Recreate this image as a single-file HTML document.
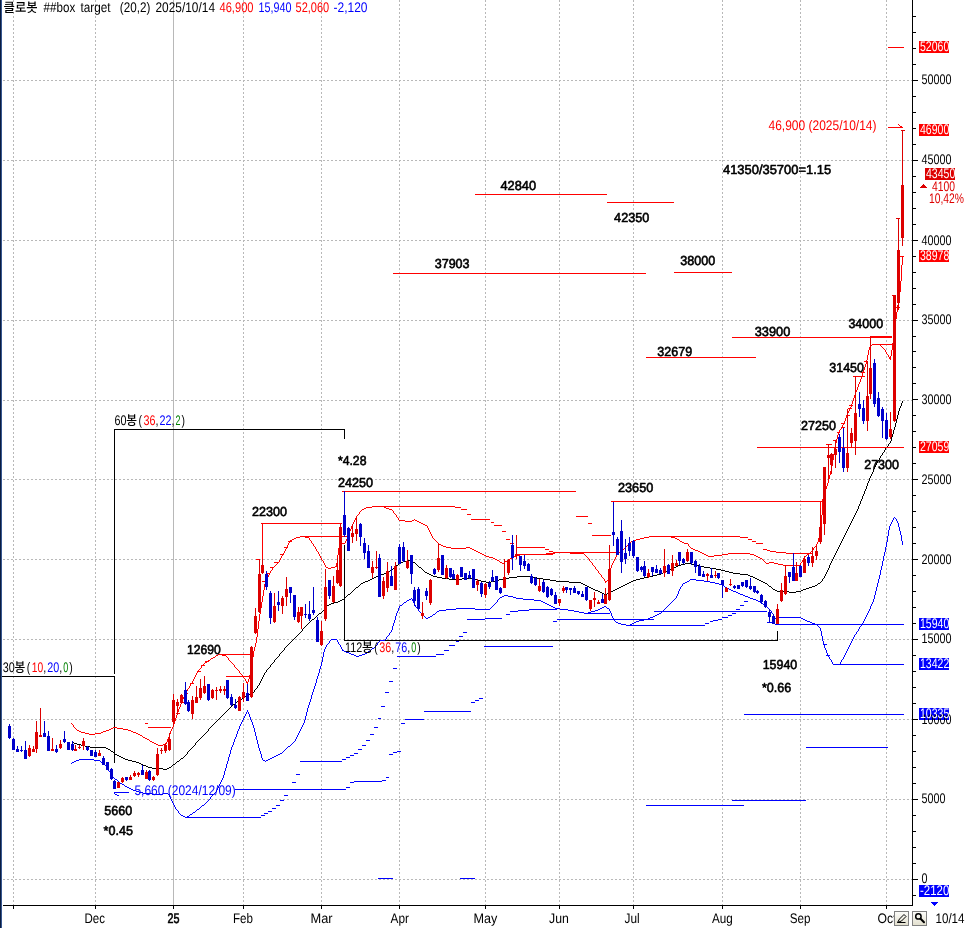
<!DOCTYPE html>
<html lang="ko"><head><meta charset="utf-8"><title>클로봇 ##box target</title>
<style>
html,body{margin:0;padding:0;background:#fff;}
body{width:967px;height:928px;overflow:hidden;}
svg{display:block;}
text{font-family:'Liberation Sans','Noto Sans CJK KR',sans-serif;white-space:pre;}
</style></head><body>
<svg width="967" height="928" viewBox="0 0 967 928">
<rect x="0" y="0" width="967" height="928" fill="#fff"/>
<g shape-rendering="crispEdges">
<g stroke="#b8b8b8" stroke-width="1" stroke-dasharray="2 2"><line x1="3" y1="80.5" x2="912" y2="80.5"/><line x1="3" y1="160.5" x2="912" y2="160.5"/><line x1="3" y1="240.5" x2="912" y2="240.5"/><line x1="3" y1="320.5" x2="912" y2="320.5"/><line x1="3" y1="400.5" x2="912" y2="400.5"/><line x1="3" y1="479.5" x2="912" y2="479.5"/><line x1="3" y1="559.5" x2="912" y2="559.5"/><line x1="3" y1="639.5" x2="912" y2="639.5"/><line x1="3" y1="719.5" x2="912" y2="719.5"/><line x1="3" y1="799.5" x2="912" y2="799.5"/><line x1="3" y1="879.5" x2="912" y2="879.5"/><line x1="13.5" y1="0" x2="13.5" y2="905"/><line x1="95.5" y1="0" x2="95.5" y2="905"/><line x1="243.5" y1="0" x2="243.5" y2="905"/><line x1="321.5" y1="0" x2="321.5" y2="905"/><line x1="399.5" y1="0" x2="399.5" y2="905"/><line x1="485.5" y1="0" x2="485.5" y2="905"/><line x1="559.5" y1="0" x2="559.5" y2="905"/><line x1="633.5" y1="0" x2="633.5" y2="905"/><line x1="722.5" y1="0" x2="722.5" y2="905"/><line x1="800.5" y1="0" x2="800.5" y2="905"/><line x1="886.5" y1="0" x2="886.5" y2="905"/></g>
<rect x="173" y="0" width="1" height="905" fill="#b8b8b8"/>
<rect x="2" y="676" width="113" height="1" fill="#000"/>
<rect x="114" y="429" width="1" height="245" fill="#000"/>
<rect x="114" y="676" width="1" height="87" fill="#000"/>
<rect x="114" y="429" width="231" height="1" fill="#000"/>
<rect x="344" y="429" width="1" height="10" fill="#000"/>
<rect x="344" y="545" width="1" height="96" fill="#000"/>
<rect x="344" y="640" width="434" height="1" fill="#000"/>
<rect x="777" y="631" width="1" height="10" fill="#000"/>
<path fill="#000" d="M374 577h2v1h-2zM437 577h5v1h-5zM509 577h8v1h-8zM532 577h5v1h-5zM644 577h5v1h-5zM753 577h2v1h-2zM585 585h2v1h-2zM623 585h2v1h-2zM815 585h2v1h-2zM681 564h4v1h-4zM691 564h4v1h-4zM370 579h2v1h-2zM449 579h13v1h-13zM473 579h5v1h-5zM499 579h5v1h-5zM543 579h7v1h-7zM636 579h4v1h-4zM757 579h2v1h-2zM365 581h3v1h-3zM481 581h5v1h-5zM491 581h4v1h-4zM556 581h13v1h-13zM631 581h2v1h-2zM761 581h2v1h-2zM598 591h2v1h-2zM611 591h2v1h-2zM777 591h12v1h-12zM796 591h5v1h-5zM401 562h2v1h-2zM413 562h2v1h-2zM388 571h2v1h-2zM665 571h3v1h-3zM725 571h4v1h-4zM419 567h2v1h-2zM674 567h2v1h-2zM704 567h6v1h-6zM600 592h2v1h-2zM609 592h2v1h-2zM789 592h7v1h-7zM384 573h2v1h-2zM427 573h2v1h-2zM661 573h2v1h-2zM733 573h7v1h-7zM378 575h3v1h-3zM431 575h2v1h-2zM653 575h4v1h-4zM748 575h2v1h-2zM363 582h2v1h-2zM486 582h5v1h-5zM569 582h12v1h-12zM629 582h2v1h-2zM763 582h2v1h-2zM115 754h2v1h-2zM372 578h2v1h-2zM442 578h7v1h-7zM462 578h11v1h-11zM504 578h5v1h-5zM537 578h6v1h-6zM640 578h4v1h-4zM755 578h2v1h-2zM593 589h2v1h-2zM615 589h2v1h-2zM773 589h2v1h-2zM803 589h3v1h-3zM399 563h2v1h-2zM685 563h6v1h-6zM125 759h3v1h-3zM361 583h2v1h-2zM581 583h2v1h-2zM627 583h2v1h-2zM765 583h2v1h-2zM818 583h2v1h-2zM117 755h2v1h-2zM591 588h2v1h-2zM617 588h2v1h-2zM806 588h3v1h-3zM119 756h2v1h-2zM595 590h3v1h-3zM613 590h2v1h-2zM775 590h2v1h-2zM801 590h2v1h-2zM403 561h4v1h-4zM411 561h2v1h-2zM386 572h2v1h-2zM425 572h2v1h-2zM663 572h2v1h-2zM729 572h4v1h-4zM121 757h2v1h-2zM152 768h11v1h-11zM167 768h2v1h-2zM672 568h2v1h-2zM710 568h6v1h-6zM381 574h3v1h-3zM429 574h2v1h-2zM657 574h4v1h-4zM740 574h8v1h-8zM331 603h3v1h-3zM376 576h2v1h-2zM433 576h4v1h-4zM517 576h15v1h-15zM649 576h4v1h-4zM750 576h3v1h-3zM368 580h2v1h-2zM478 580h3v1h-3zM495 580h4v1h-4zM550 580h6v1h-6zM633 580h3v1h-3zM759 580h2v1h-2zM85 746h5v1h-5zM587 586h2v1h-2zM621 586h2v1h-2zM769 586h2v1h-2zM812 586h3v1h-3zM81 745h4v1h-4zM356 587h2v1h-2zM589 587h2v1h-2zM619 587h2v1h-2zM809 587h3v1h-3zM602 593h2v1h-2zM607 593h2v1h-2zM90 747h16v1h-16zM338 601h2v1h-2zM342 599h2v1h-2zM146 766h2v1h-2zM128 760h4v1h-4zM249 694h2v1h-2zM240 699h2v1h-2zM139 763h2v1h-2zM396 565h2v1h-2zM678 565h3v1h-3zM695 565h4v1h-4zM327 605h2v1h-2zM583 584h2v1h-2zM625 584h2v1h-2zM106 748h2v1h-2zM74 743h3v1h-3zM668 570h2v1h-2zM721 570h4v1h-4zM391 569h2v1h-2zM670 569h2v1h-2zM716 569h5v1h-5zM132 761h4v1h-4zM177 761h2v1h-2zM319 613h2v1h-2zM233 704h2v1h-2zM676 566h2v1h-2zM699 566h5v1h-5zM136 762h3v1h-3zM348 594h2v1h-2zM604 594h3v1h-3zM245 696h2v1h-2zM237 701h2v1h-2zM334 602h4v1h-4zM407 560h4v1h-4zM108 749h2v1h-2zM77 744h4v1h-4zM340 600h2v1h-2zM148 767h4v1h-4zM169 767h2v1h-2zM251 693h2v1h-2zM141 764h2v1h-2zM173 764h2v1h-2zM163 769h4v1h-4zM329 604h2v1h-2zM243 697h2v1h-2zM123 758h2v1h-2zM181 758h2v1h-2zM247 695h2v1h-2zM72 742h2v1h-2zM111 751h2v1h-2zM143 765h3v1h-3zM312 619h2v1h-2zM851 521h1v2h-1zM359 585h1v1h-1zM831 561h1v2h-1zM270 665h1v2h-1zM293 639h1v1h-1zM317 615h1v1h-1zM867 483h1v3h-1zM879 458h1v2h-1zM856 511h1v2h-1zM187 752h1v2h-1zM872 472h1v2h-1zM899 408h1v3h-1zM896 419h1v4h-1zM202 736h1v1h-1zM875 465h1v2h-1zM229 708h1v1h-1zM855 513h1v2h-1zM296 636h1v1h-1zM253 692h1v1h-1zM826 572h1v2h-1zM114 753h1v1h-1zM199 739h1v1h-1zM895 423h1v4h-1zM324 608h1v2h-1zM217 720h1v1h-1zM863 494h1v2h-1zM260 681h1v2h-1zM194 745h1v1h-1zM284 648h1v2h-1zM214 723h1v1h-1zM350 593h1v1h-1zM822 579h1v2h-1zM308 623h1v1h-1zM891 437h1v4h-1zM835 553h1v2h-1zM850 523h1v2h-1zM862 496h1v3h-1zM256 688h1v1h-1zM171 766h1v1h-1zM866 486h1v3h-1zM226 711h1v1h-1zM878 460h1v1h-1zM393 568h1v1h-1zM206 732h1v1h-1zM175 763h1v1h-1zM846 531h1v2h-1zM300 632h1v1h-1zM882 453h1v2h-1zM291 641h1v1h-1zM874 467h1v2h-1zM854 515h1v2h-1zM830 563h1v2h-1zM845 533h1v2h-1zM110 750h1v1h-1zM288 644h1v1h-1zM186 754h1v1h-1zM189 750h1v1h-1zM264 673h1v2h-1zM898 411h1v4h-1zM817 584h1v1h-1zM829 565h1v3h-1zM303 628h1v1h-1zM841 541h1v2h-1zM821 581h1v1h-1zM834 555h1v2h-1zM415 563h1v1h-1zM885 448h1v2h-1zM894 427h1v3h-1zM221 716h1v1h-1zM825 574h1v2h-1zM354 589h1v1h-1zM272 663h1v1h-1zM323 610h1v1h-1zM295 637h1v1h-1zM358 586h1v1h-1zM283 650h1v1h-1zM873 469h1v3h-1zM209 728h1v1h-1zM824 576h1v2h-1zM267 669h1v1h-1zM897 415h1v4h-1zM310 621h1v1h-1zM345 597h1v1h-1zM849 525h1v2h-1zM280 653h1v1h-1zM314 618h1v1h-1zM204 734h1v1h-1zM865 489h1v2h-1zM861 499h1v2h-1zM239 700h1v1h-1zM228 709h1v1h-1zM263 675h1v2h-1zM395 566h1v1h-1zM275 659h1v1h-1zM201 737h1v1h-1zM840 543h1v2h-1zM828 568h1v2h-1zM326 606h1v1h-1zM259 683h1v2h-1zM902 401h1v2h-1zM216 721h1v1h-1zM853 517h1v2h-1zM881 455h1v1h-1zM193 746h1v1h-1zM888 444h1v2h-1zM877 461h1v2h-1zM302 629h1v2h-1zM208 729h1v2h-1zM893 430h1v4h-1zM860 501h1v3h-1zM884 450h1v2h-1zM321 612h1v1h-1zM864 491h1v3h-1zM421 568h1v1h-1zM223 714h1v1h-1zM290 642h1v1h-1zM422 569h1v1h-1zM262 677h1v2h-1zM196 742h1v1h-1zM901 403h1v3h-1zM892 434h1v3h-1zM844 535h1v2h-1zM274 660h1v2h-1zM360 584h1v1h-1zM191 748h1v1h-1zM211 726h1v1h-1zM266 670h1v2h-1zM771 587h1v1h-1zM269 667h1v1h-1zM258 685h1v1h-1zM305 626h1v1h-1zM282 651h1v1h-1zM820 582h1v1h-1zM871 474h1v2h-1zM179 760h1v1h-1zM848 527h1v2h-1zM277 657h1v1h-1zM839 545h1v2h-1zM203 735h1v1h-1zM876 463h1v2h-1zM390 570h1v1h-1zM172 765h1v1h-1zM416 564h1v1h-1zM218 719h1v1h-1zM859 504h1v2h-1zM880 456h1v2h-1zM285 647h1v1h-1zM417 565h1v1h-1zM188 751h1v1h-1zM344 598h1v1h-1zM900 406h1v2h-1zM843 537h1v2h-1zM887 446h1v1h-1zM183 757h1v1h-1zM230 707h1v1h-1zM297 635h1v1h-1zM394 567h1v1h-1zM254 690h1v2h-1zM827 570h1v2h-1zM398 564h1v1h-1zM347 595h1v1h-1zM316 616h1v1h-1zM261 679h1v2h-1zM195 743h1v2h-1zM198 740h1v1h-1zM351 592h1v1h-1zM823 578h1v1h-1zM858 506h1v3h-1zM883 452h1v1h-1zM838 547h1v2h-1zM309 622h1v1h-1zM222 715h1v1h-1zM890 441h1v2h-1zM257 686h1v2h-1zM423 570h1v1h-1zM307 624h1v1h-1zM210 727h1v1h-1zM265 672h1v1h-1zM870 476h1v2h-1zM225 712h1v1h-1zM292 640h1v1h-1zM833 557h1v2h-1zM213 724h1v1h-1zM190 749h1v1h-1zM268 668h1v1h-1zM304 627h1v1h-1zM842 539h1v2h-1zM185 755h1v1h-1zM857 509h1v2h-1zM255 689h1v1h-1zM232 705h1v1h-1zM772 588h1v1h-1zM279 654h1v2h-1zM299 633h1v1h-1zM236 702h1v1h-1zM205 733h1v1h-1zM886 447h1v1h-1zM869 478h1v3h-1zM220 717h1v1h-1zM287 645h1v1h-1zM353 590h1v1h-1zM837 549h1v2h-1zM311 620h1v1h-1zM346 596h1v1h-1zM315 617h1v1h-1zM276 658h1v1h-1zM767 584h1v1h-1zM227 710h1v1h-1zM271 664h1v1h-1zM113 752h1v1h-1zM294 638h1v1h-1zM768 585h1v1h-1zM318 614h1v1h-1zM832 559h1v2h-1zM197 741h1v1h-1zM322 611h1v1h-1zM224 713h1v1h-1zM852 519h1v2h-1zM418 566h1v1h-1zM215 722h1v1h-1zM889 443h1v1h-1zM306 625h1v1h-1zM836 551h1v2h-1zM200 738h1v1h-1zM325 607h1v1h-1zM847 529h1v2h-1zM868 481h1v2h-1zM298 634h1v1h-1zM289 643h1v1h-1zM192 747h1v1h-1zM212 725h1v1h-1zM424 571h1v1h-1zM207 731h1v1h-1zM286 646h1v1h-1zM176 762h1v1h-1zM242 698h1v1h-1zM352 591h1v1h-1zM301 631h1v1h-1zM180 759h1v1h-1zM231 706h1v1h-1zM278 656h1v1h-1zM281 652h1v1h-1zM184 756h1v1h-1zM235 703h1v1h-1zM273 662h1v1h-1zM219 718h1v1h-1zM355 588h1v1h-1z"/>
<path fill="#ff0000" d="M489 557h4v1h-4zM512 557h2v1h-2zM758 557h2v1h-2zM778 564h5v1h-5zM300 536h5v1h-5zM649 536h22v1h-22zM482 554h2v1h-2zM520 554h26v1h-26zM704 554h2v1h-2zM722 554h6v1h-6zM750 554h4v1h-4zM807 554h2v1h-2zM89 734h6v1h-6zM138 734h2v1h-2zM77 730h2v1h-2zM106 730h3v1h-3zM128 730h3v1h-3zM486 556h3v1h-3zM514 556h2v1h-2zM708 556h6v1h-6zM756 556h2v1h-2zM500 562h2v1h-2zM769 562h5v1h-5zM364 508h2v1h-2zM386 508h3v1h-3zM246 682h2v1h-2zM292 539h2v1h-2zM636 539h4v1h-4zM677 539h2v1h-2zM441 545h2v1h-2zM443 546h3v1h-3zM480 553h2v1h-2zM546 553h9v1h-9zM570 553h14v1h-14zM702 553h2v1h-2zM728 553h22v1h-22zM497 560h2v1h-2zM85 733h4v1h-4zM95 733h6v1h-6zM136 733h2v1h-2zM405 521h7v1h-7zM417 521h2v1h-2zM296 537h4v1h-4zM305 537h4v1h-4zM644 537h5v1h-5zM671 537h4v1h-4zM335 566h2v1h-2zM495 559h2v1h-2zM508 559h2v1h-2zM605 581h2v1h-2zM294 538h2v1h-2zM640 538h4v1h-4zM675 538h2v1h-2zM79 731h2v1h-2zM103 731h3v1h-3zM131 731h2v1h-2zM150 741h2v1h-2zM366 507h6v1h-6zM384 507h2v1h-2zM451 548h15v1h-15zM470 548h2v1h-2zM691 548h2v1h-2zM81 732h4v1h-4zM101 732h2v1h-2zM133 732h3v1h-3zM446 547h5v1h-5zM466 547h4v1h-4zM484 555h2v1h-2zM516 555h4v1h-4zM706 555h2v1h-2zM714 555h8v1h-8zM754 555h2v1h-2zM476 551h2v1h-2zM620 551h2v1h-2zM698 551h2v1h-2zM342 543h3v1h-3zM684 543h4v1h-4zM109 729h2v1h-2zM123 729h5v1h-5zM111 728h2v1h-2zM117 728h6v1h-6zM472 549h2v1h-2zM693 549h2v1h-2zM154 743h2v1h-2zM165 743h2v1h-2zM339 544h3v1h-3zM439 544h2v1h-2zM502 563h2v1h-2zM766 563h3v1h-3zM774 563h4v1h-4zM399 520h6v1h-6zM412 520h2v1h-2zM415 520h2v1h-2zM478 552h2v1h-2zM555 552h15v1h-15zM700 552h2v1h-2zM290 540h2v1h-2zM633 540h3v1h-3zM889 358h2v1h-2zM421 523h2v1h-2zM205 662h2v1h-2zM682 542h2v1h-2zM216 655h2v1h-2zM222 655h4v1h-4zM328 568h3v1h-3zM783 565h17v1h-17zM872 344h8v1h-8zM326 567h2v1h-2zM331 567h4v1h-4zM362 509h2v1h-2zM389 509h3v1h-3zM372 506h12v1h-12zM505 561h2v1h-2zM493 558h2v1h-2zM510 558h2v1h-2zM760 558h2v1h-2zM474 550h2v1h-2zM695 550h3v1h-3zM211 658h2v1h-2zM419 522h2v1h-2zM113 727h4v1h-4zM213 657h2v1h-2zM140 735h2v1h-2zM143 737h2v1h-2zM156 744h2v1h-2zM163 744h2v1h-2zM889 357h2v1h-2zM631 541h2v1h-2zM680 541h2v1h-2zM423 524h2v1h-2zM208 660h2v1h-2zM425 525h2v1h-2zM158 745h5v1h-5zM152 742h2v1h-2zM145 738h2v1h-2zM218 654h4v1h-4zM147 739h2v1h-2zM834 448h1v6h-1zM288 543h1v2h-1zM337 555h1v8h-1zM142 736h1v1h-1zM318 552h1v2h-1zM822 499h1v16h-1zM349 531h1v3h-1zM228 658h1v2h-1zM835 443h1v5h-1zM895 319h1v8h-1zM197 671h1v2h-1zM592 563h1v2h-1zM839 430h1v2h-1zM899 292h1v7h-1zM614 559h1v2h-1zM679 540h1v1h-1zM851 404h1v3h-1zM863 370h1v3h-1zM813 548h1v2h-1zM345 541h1v2h-1zM900 281h1v11h-1zM354 520h1v2h-1zM886 352h1v2h-1zM829 475h1v4h-1zM855 392h1v3h-1zM867 355h1v5h-1zM168 737h1v2h-1zM901 265h1v16h-1zM833 454h1v6h-1zM259 614h1v7h-1zM610 568h1v4h-1zM504 562h1v1h-1zM887 354h1v1h-1zM868 350h1v5h-1zM821 515h1v15h-1zM250 670h1v5h-1zM838 432h1v3h-1zM239 671h1v2h-1zM850 407h1v2h-1zM862 373h1v3h-1zM584 554h1v1h-1zM353 522h1v2h-1zM264 584h1v6h-1zM825 489h1v4h-1zM591 562h1v1h-1zM73 725h1v2h-1zM254 647h1v4h-1zM854 395h1v3h-1zM866 360h1v4h-1zM192 681h1v2h-1zM629 543h1v1h-1zM258 621h1v8h-1zM184 695h1v2h-1zM595 567h1v2h-1zM830 471h1v4h-1zM336 563h1v3h-1zM816 544h1v2h-1zM227 657h1v1h-1zM169 734h1v3h-1zM432 536h1v2h-1zM287 545h1v2h-1zM820 530h1v4h-1zM800 563h1v2h-1zM392 510h1v1h-1zM267 577h1v2h-1zM824 493h1v3h-1zM894 327h1v8h-1zM276 564h1v1h-1zM176 715h1v3h-1zM279 560h1v2h-1zM234 665h1v2h-1zM828 479h1v4h-1zM357 515h1v1h-1zM819 534h1v4h-1zM429 530h1v2h-1zM804 557h1v1h-1zM262 596h1v6h-1zM845 418h1v3h-1zM196 673h1v2h-1zM283 553h1v1h-1zM871 345h1v1h-1zM609 572h1v5h-1zM263 590h1v6h-1zM181 701h1v3h-1zM893 335h1v8h-1zM858 384h1v3h-1zM249 675h1v4h-1zM613 561h1v2h-1zM253 651h1v6h-1zM837 435h1v4h-1zM898 299h1v6h-1zM762 559h1v1h-1zM594 566h1v1h-1zM626 546h1v1h-1zM853 398h1v3h-1zM842 425h1v2h-1zM857 387h1v3h-1zM431 534h1v2h-1zM248 679h1v3h-1zM360 511h1v1h-1zM885 350h1v2h-1zM352 524h1v2h-1zM188 688h1v1h-1zM428 528h1v2h-1zM167 739h1v3h-1zM171 729h1v2h-1zM892 343h1v7h-1zM76 729h1v1h-1zM286 547h1v2h-1zM832 460h1v6h-1zM897 305h1v7h-1zM598 571h1v2h-1zM902 256h1v9h-1zM394 513h1v1h-1zM849 409h1v2h-1zM604 579h1v2h-1zM803 558h1v2h-1zM270 571h1v2h-1zM888 355h1v2h-1zM170 731h1v3h-1zM282 554h1v2h-1zM398 518h1v2h-1zM204 663h1v1h-1zM617 554h1v1h-1zM237 669h1v1h-1zM183 697h1v2h-1zM836 439h1v4h-1zM238 670h1v1h-1zM852 401h1v3h-1zM339 545h1v3h-1zM199 669h1v1h-1zM266 579h1v2h-1zM827 483h1v3h-1zM191 683h1v1h-1zM75 728h1v1h-1zM278 562h1v1h-1zM252 657h1v7h-1zM869 347h1v3h-1zM841 427h1v2h-1zM356 516h1v2h-1zM818 538h1v4h-1zM257 629h1v8h-1zM229 660h1v1h-1zM393 511h1v2h-1zM261 602h1v6h-1zM195 675h1v2h-1zM230 661h1v1h-1zM187 689h1v2h-1zM884 349h1v1h-1zM612 563h1v2h-1zM689 546h1v1h-1zM430 532h1v2h-1zM831 466h1v5h-1zM427 526h1v2h-1zM202 665h1v1h-1zM338 548h1v7h-1zM628 544h1v1h-1zM586 556h1v1h-1zM351 526h1v3h-1zM823 496h1v3h-1zM611 565h1v3h-1zM210 659h1v1h-1zM896 312h1v7h-1zM269 573h1v2h-1zM688 544h1v2h-1zM861 376h1v3h-1zM281 556h1v2h-1zM596 569h1v1h-1zM359 512h1v2h-1zM616 555h1v2h-1zM256 637h1v6h-1zM182 699h1v2h-1zM806 555h1v1h-1zM260 608h1v6h-1zM597 570h1v1h-1zM433 538h1v1h-1zM273 567h1v1h-1zM891 350h1v6h-1zM810 552h1v1h-1zM251 664h1v6h-1zM285 549h1v2h-1zM434 539h1v1h-1zM265 581h1v3h-1zM826 486h1v3h-1zM255 643h1v4h-1zM240 673h1v1h-1zM166 742h1v1h-1zM585 555h1v1h-1zM843 423h1v2h-1zM194 677h1v2h-1zM848 411h1v2h-1zM619 552h1v1h-1zM174 721h1v3h-1zM309 538h1v2h-1zM623 549h1v1h-1zM396 515h1v2h-1zM289 541h1v2h-1zM178 709h1v3h-1zM190 684h1v2h-1zM890 356h1v1h-1zM890 359h1v1h-1zM847 413h1v3h-1zM350 529h1v2h-1zM860 379h1v3h-1zM173 724h1v3h-1zM864 367h1v3h-1zM277 563h1v1h-1zM177 712h1v3h-1zM186 691h1v2h-1zM615 557h1v2h-1zM243 676h1v2h-1zM763 560h1v1h-1zM414 519h1v1h-1zM880 345h1v1h-1zM599 573h1v1h-1zM395 514h1v1h-1zM201 666h1v2h-1zM232 663h1v1h-1zM268 575h1v2h-1zM812 550h1v1h-1zM189 686h1v2h-1zM180 704h1v3h-1zM231 662h1v1h-1zM311 541h1v2h-1zM272 568h1v2h-1zM284 551h1v2h-1zM690 547h1v1h-1zM630 542h1v1h-1zM348 534h1v3h-1zM859 382h1v2h-1zM172 727h1v2h-1zM193 679h1v2h-1zM435 540h1v1h-1zM185 693h1v2h-1zM499 561h1v1h-1zM436 541h1v1h-1zM280 558h1v2h-1zM815 546h1v1h-1zM587 557h1v1h-1zM149 740h1v1h-1zM325 565h1v2h-1zM275 565h1v1h-1zM588 558h1v1h-1zM846 416h1v2h-1zM507 560h1v1h-1zM310 540h1v1h-1zM314 546h1v1h-1zM175 718h1v3h-1zM241 674h1v1h-1zM361 510h1v1h-1zM179 707h1v2h-1zM625 547h1v1h-1zM242 675h1v1h-1zM321 558h1v2h-1zM324 563h1v2h-1zM608 577h1v3h-1zM765 562h1v1h-1zM601 575h1v2h-1zM870 346h1v1h-1zM397 517h1v1h-1zM882 347h1v1h-1zM602 577h1v1h-1zM245 679h1v2h-1zM802 560h1v2h-1zM590 561h1v1h-1zM320 556h1v2h-1zM865 364h1v3h-1zM764 561h1v1h-1zM200 668h1v1h-1zM203 664h1v1h-1zM313 544h1v2h-1zM215 656h1v1h-1zM605 582h1v1h-1zM881 346h1v1h-1zM317 551h1v1h-1zM198 670h1v1h-1zM355 518h1v2h-1zM811 551h1v1h-1zM72 724h1v1h-1zM244 678h1v1h-1zM589 559h1v2h-1zM323 561h1v2h-1zM271 570h1v1h-1zM347 537h1v2h-1zM274 566h1v1h-1zM316 549h1v2h-1zM319 554h1v2h-1zM207 661h1v1h-1zM600 574h1v1h-1zM312 543h1v1h-1zM233 664h1v1h-1zM840 429h1v1h-1zM71 723h1v1h-1zM814 547h1v1h-1zM438 543h1v1h-1zM805 556h1v1h-1zM844 421h1v2h-1zM809 553h1v1h-1zM315 547h1v2h-1zM226 656h1v1h-1zM603 578h1v1h-1zM627 545h1v1h-1zM624 548h1v1h-1zM437 542h1v1h-1zM817 542h1v2h-1zM346 539h1v2h-1zM236 668h1v1h-1zM358 514h1v1h-1zM856 390h1v2h-1zM247 683h1v1h-1zM607 580h1v1h-1zM322 560h1v1h-1zM593 565h1v1h-1zM235 667h1v1h-1zM883 348h1v1h-1zM801 562h1v1h-1zM618 553h1v1h-1zM74 727h1v1h-1zM246 681h1v1h-1zM622 550h1v1h-1z"/>
<path fill="#0000ff" d="M351 654h3v1h-3zM362 654h3v1h-3zM76 760h3v1h-3zM94 760h6v1h-6zM263 760h2v1h-2zM266 760h2v1h-2zM428 617h2v1h-2zM650 617h3v1h-3zM776 617h25v1h-25zM439 610h7v1h-7zM568 610h6v1h-6zM595 610h3v1h-3zM437 611h2v1h-2zM574 611h5v1h-5zM591 611h4v1h-4zM407 600h2v1h-2zM534 600h7v1h-7zM756 600h2v1h-2zM354 655h2v1h-2zM359 655h3v1h-3zM143 793h9v1h-9zM163 793h5v1h-5zM545 603h2v1h-2zM131 789h2v1h-2zM683 583h2v1h-2zM715 583h4v1h-4zM278 754h2v1h-2zM400 605h2v1h-2zM549 605h2v1h-2zM764 605h2v1h-2zM331 639h6v1h-6zM504 595h4v1h-4zM743 595h2v1h-2zM380 640h5v1h-5zM152 794h11v1h-11zM725 587h2v1h-2zM133 790h3v1h-3zM125 786h2v1h-2zM644 619h4v1h-4zM803 619h2v1h-2zM446 609h10v1h-10zM475 609h15v1h-15zM560 609h8v1h-8zM598 609h2v1h-2zM274 756h2v1h-2zM551 606h2v1h-2zM604 606h2v1h-2zM655 615h2v1h-2zM685 582h2v1h-2zM710 582h5v1h-5zM433 614h2v1h-2zM657 614h2v1h-2zM516 598h7v1h-7zM750 598h3v1h-3zM136 791h3v1h-3zM181 815h2v1h-2zM129 788h2v1h-2zM349 653h2v1h-2zM365 653h2v1h-2zM74 761h2v1h-2zM833 664h7v1h-7zM456 608h19v1h-19zM555 608h5v1h-5zM600 608h2v1h-2zM607 608h2v1h-2zM696 580h8v1h-8zM272 757h2v1h-2zM79 759h15v1h-15zM268 759h2v1h-2zM636 621h3v1h-3zM807 621h3v1h-3zM687 581h2v1h-2zM704 581h6v1h-6zM122 784h2v1h-2zM738 593h2v1h-2zM404 602h2v1h-2zM543 602h2v1h-2zM760 602h2v1h-2zM502 596h2v1h-2zM508 596h5v1h-5zM745 596h3v1h-3zM639 620h5v1h-5zM805 620h2v1h-2zM409 599h2v1h-2zM523 599h11v1h-11zM753 599h3v1h-3zM584 613h4v1h-4zM659 613h2v1h-2zM139 792h4v1h-4zM270 758h2v1h-2zM719 584h3v1h-3zM547 604h2v1h-2zM430 616h2v1h-2zM653 616h2v1h-2zM193 812h2v1h-2zM426 618h2v1h-2zM648 618h2v1h-2zM801 618h2v1h-2zM185 817h2v1h-2zM541 601h2v1h-2zM758 601h2v1h-2zM616 622h2v1h-2zM634 622h2v1h-2zM810 622h2v1h-2zM621 624h5v1h-5zM630 624h2v1h-2zM815 624h2v1h-2zM120 783h2v1h-2zM344 651h2v1h-2zM368 651h2v1h-2zM618 623h3v1h-3zM632 623h2v1h-2zM812 623h3v1h-3zM280 753h2v1h-2zM372 648h2v1h-2zM740 594h3v1h-3zM733 591h3v1h-3zM500 597h2v1h-2zM513 597h3v1h-3zM748 597h2v1h-2zM346 652h3v1h-3zM626 625h4v1h-4zM727 588h2v1h-2zM183 816h2v1h-2zM187 816h2v1h-2zM736 592h2v1h-2zM729 589h2v1h-2zM722 585h2v1h-2zM190 814h2v1h-2zM276 755h2v1h-2zM102 763h2v1h-2zM115 779h2v1h-2zM579 612h5v1h-5zM588 612h3v1h-3zM288 746h2v1h-2zM72 762h2v1h-2zM342 650h2v1h-2zM690 579h6v1h-6zM731 590h2v1h-2zM127 787h2v1h-2zM356 656h3v1h-3zM553 607h2v1h-2zM602 607h2v1h-2zM197 809h2v1h-2zM202 805h2v1h-2zM170 797h1v2h-1zM178 811h1v2h-1zM868 611h1v2h-1zM310 699h1v3h-1zM825 648h1v2h-1zM256 736h1v4h-1zM225 768h1v3h-1zM171 799h1v2h-1zM884 552h1v4h-1zM495 603h1v1h-1zM852 639h1v2h-1zM259 748h1v3h-1zM821 631h1v5h-1zM888 530h1v6h-1zM196 810h1v1h-1zM241 722h1v2h-1zM876 587h1v4h-1zM293 742h1v1h-1zM889 526h1v4h-1zM843 657h1v2h-1zM255 732h1v4h-1zM415 605h1v2h-1zM867 613h1v2h-1zM342 649h1v1h-1zM286 748h1v1h-1zM233 742h1v3h-1zM856 632h1v2h-1zM670 603h1v1h-1zM224 771h1v4h-1zM859 627h1v2h-1zM189 815h1v1h-1zM880 570h1v5h-1zM248 712h1v2h-1zM212 795h1v1h-1zM769 609h1v1h-1zM338 642h1v2h-1zM323 652h1v5h-1zM100 761h1v1h-1zM412 599h1v2h-1zM872 602h1v2h-1zM899 527h1v4h-1zM831 660h1v2h-1zM228 757h1v4h-1zM262 758h1v2h-1zM863 621h1v2h-1zM392 626h1v4h-1zM232 745h1v2h-1zM252 722h1v3h-1zM322 657h1v5h-1zM678 591h1v3h-1zM396 613h1v3h-1zM306 712h1v4h-1zM847 649h1v2h-1zM824 645h1v3h-1zM893 518h1v2h-1zM326 645h1v2h-1zM107 767h1v2h-1zM200 807h1v1h-1zM301 727h1v2h-1zM896 519h1v2h-1zM768 608h1v1h-1zM204 804h1v1h-1zM305 716h1v4h-1zM391 630h1v2h-1zM851 641h1v2h-1zM689 580h1v1h-1zM290 745h1v1h-1zM318 673h1v3h-1zM612 616h1v2h-1zM892 520h1v2h-1zM900 531h1v4h-1zM341 647h1v2h-1zM395 616h1v4h-1zM615 621h1v1h-1zM490 608h1v1h-1zM879 575h1v4h-1zM297 735h1v2h-1zM883 556h1v5h-1zM245 714h1v2h-1zM827 653h1v2h-1zM223 775h1v3h-1zM609 609h1v2h-1zM317 676h1v3h-1zM110 772h1v2h-1zM665 608h1v1h-1zM216 790h1v2h-1zM866 615h1v2h-1zM878 579h1v4h-1zM875 591h1v4h-1zM296 737h1v2h-1zM855 634h1v1h-1zM106 766h1v1h-1zM309 702h1v3h-1zM846 651h1v2h-1zM817 625h1v1h-1zM258 744h1v4h-1zM399 606h1v2h-1zM414 603h1v2h-1zM337 640h1v2h-1zM611 613h1v3h-1zM862 623h1v1h-1zM411 598h1v1h-1zM340 645h1v2h-1zM874 595h1v4h-1zM403 603h1v1h-1zM887 536h1v6h-1zM284 750h1v1h-1zM240 724h1v2h-1zM261 754h1v4h-1zM902 541h1v4h-1zM308 705h1v3h-1zM842 659h1v1h-1zM180 814h1v1h-1zM321 662h1v4h-1zM300 729h1v2h-1zM873 599h1v3h-1zM494 604h1v1h-1zM169 795h1v2h-1zM858 629h1v2h-1zM387 636h1v1h-1zM390 632h1v1h-1zM379 641h1v1h-1zM251 720h1v2h-1zM71 763h1v1h-1zM850 643h1v2h-1zM227 761h1v3h-1zM239 726h1v3h-1zM820 628h1v3h-1zM823 641h1v4h-1zM254 728h1v4h-1zM374 647h1v1h-1zM771 611h1v2h-1zM244 716h1v2h-1zM774 616h1v2h-1zM231 747h1v3h-1zM222 778h1v2h-1zM247 710h1v2h-1zM418 609h1v2h-1zM117 780h1v1h-1zM211 796h1v1h-1zM775 618h1v1h-1zM325 647h1v2h-1zM497 600h1v2h-1zM882 561h1v5h-1zM313 689h1v3h-1zM870 606h1v3h-1zM101 762h1v1h-1zM886 542h1v5h-1zM424 616h1v1h-1zM295 739h1v2h-1zM206 802h1v1h-1zM195 811h1v1h-1zM105 765h1v1h-1zM425 617h1v1h-1zM108 769h1v2h-1zM680 587h1v2h-1zM891 522h1v2h-1zM394 620h1v3h-1zM845 653h1v2h-1zM826 650h1v3h-1zM199 808h1v1h-1zM672 601h1v1h-1zM324 649h1v3h-1zM109 771h1v1h-1zM398 608h1v3h-1zM312 692h1v3h-1zM250 717h1v3h-1zM226 764h1v4h-1zM432 615h1v1h-1zM770 610h1v1h-1zM397 611h1v2h-1zM614 619h1v2h-1zM841 660h1v2h-1zM304 720h1v3h-1zM679 589h1v2h-1zM307 708h1v4h-1zM436 612h1v1h-1zM417 608h1v1h-1zM320 666h1v3h-1zM610 611h1v2h-1zM885 547h1v5h-1zM386 637h1v2h-1zM111 774h1v2h-1zM257 740h1v4h-1zM898 523h1v4h-1zM230 750h1v4h-1zM112 776h1v1h-1zM292 743h1v1h-1zM861 624h1v2h-1zM319 669h1v4h-1zM316 679h1v4h-1zM492 606h1v1h-1zM901 535h1v6h-1zM246 712h1v2h-1zM881 566h1v4h-1zM210 797h1v2h-1zM299 731h1v2h-1zM311 695h1v4h-1zM217 788h1v2h-1zM393 623h1v3h-1zM315 683h1v3h-1zM413 601h1v2h-1zM667 606h1v1h-1zM849 645h1v2h-1zM822 636h1v5h-1zM865 617h1v2h-1zM877 583h1v4h-1zM221 780h1v2h-1zM314 686h1v3h-1zM303 723h1v2h-1zM260 751h1v3h-1zM283 751h1v1h-1zM773 614h1v2h-1zM419 611h1v1h-1zM682 584h1v2h-1zM118 781h1v1h-1zM674 599h1v1h-1zM389 633h1v2h-1zM420 612h1v1h-1zM119 782h1v1h-1zM238 729h1v2h-1zM829 657h1v2h-1zM175 807h1v2h-1zM253 725h1v3h-1zM376 645h1v1h-1zM724 586h1v1h-1zM298 733h1v2h-1zM871 604h1v2h-1zM213 794h1v1h-1zM237 731h1v3h-1zM840 662h1v2h-1zM818 626h1v1h-1zM249 714h1v3h-1zM766 606h1v1h-1zM229 754h1v3h-1zM864 619h1v2h-1zM496 602h1v1h-1zM327 644h1v1h-1zM499 598h1v1h-1zM208 800h1v1h-1zM772 613h1v1h-1zM220 782h1v2h-1zM294 741h1v1h-1zM844 655h1v2h-1zM832 662h1v2h-1zM201 806h1v1h-1zM236 734h1v3h-1zM828 655h1v2h-1zM662 611h1v1h-1zM114 778h1v1h-1zM677 594h1v2h-1zM854 635h1v2h-1zM174 805h1v2h-1zM302 725h1v2h-1zM491 607h1v1h-1zM285 749h1v1h-1zM669 604h1v1h-1zM113 777h1v1h-1zM330 640h1v1h-1zM666 607h1v1h-1zM367 652h1v1h-1zM215 792h1v1h-1zM371 649h1v1h-1zM173 803h1v2h-1zM243 718h1v2h-1zM219 784h1v2h-1zM265 761h1v1h-1zM235 737h1v2h-1zM192 813h1v1h-1zM402 604h1v1h-1zM673 600h1v1h-1zM857 631h1v1h-1zM375 646h1v1h-1zM421 613h1v1h-1zM378 642h1v1h-1zM172 801h1v2h-1zM661 612h1v1h-1zM422 614h1v1h-1zM329 641h1v2h-1zM676 596h1v2h-1zM853 637h1v2h-1zM498 599h1v1h-1zM124 785h1v1h-1zM869 609h1v2h-1zM207 801h1v1h-1zM406 601h1v1h-1zM681 586h1v1h-1zM819 627h1v1h-1zM895 518h1v1h-1zM767 607h1v1h-1zM890 524h1v2h-1zM664 609h1v1h-1zM830 659h1v1h-1zM176 809h1v1h-1zM234 739h1v3h-1zM218 786h1v2h-1zM435 613h1v1h-1zM385 639h1v1h-1zM493 605h1v1h-1zM287 747h1v1h-1zM671 602h1v1h-1zM205 803h1v1h-1zM291 744h1v1h-1zM762 603h1v1h-1zM668 605h1v1h-1zM179 813h1v1h-1zM763 604h1v1h-1zM168 794h1v1h-1zM894 517h1v1h-1zM848 647h1v2h-1zM897 521h1v2h-1zM377 643h1v2h-1zM214 793h1v1h-1zM242 720h1v2h-1zM370 650h1v1h-1zM339 644h1v1h-1zM606 607h1v1h-1zM860 626h1v1h-1zM423 615h1v1h-1zM675 598h1v1h-1zM104 764h1v1h-1zM282 752h1v1h-1zM388 635h1v1h-1zM663 610h1v1h-1zM613 618h1v1h-1zM416 607h1v1h-1zM177 810h1v1h-1zM328 643h1v1h-1zM209 799h1v1h-1z"/>
<rect x="888" y="47" width="16" height="1" fill="#ff0000"/>
<rect x="475" y="194" width="132" height="1" fill="#ff0000"/>
<rect x="607" y="202" width="67" height="1" fill="#ff0000"/>
<rect x="393" y="273" width="253" height="1" fill="#ff0000"/>
<rect x="674" y="272" width="58" height="1" fill="#ff0000"/>
<rect x="732" y="337" width="160" height="1" fill="#ff0000"/>
<rect x="646" y="357" width="110" height="1" fill="#ff0000"/>
<rect x="870" y="336" width="22" height="1" fill="#ff0000"/>
<rect x="872" y="344" width="20" height="1" fill="#ff0000"/>
<rect x="854" y="376" width="11" height="1" fill="#ff0000"/>
<rect x="757" y="447" width="147" height="1" fill="#ff0000"/>
<rect x="342" y="491" width="234" height="1" fill="#ff0000"/>
<rect x="611" y="501" width="211" height="1" fill="#ff0000"/>
<rect x="261" y="523" width="81" height="1" fill="#ff0000"/>
<rect x="301" y="536" width="48" height="1" fill="#ff0000"/>
<rect x="376" y="506" width="79" height="1" fill="#ff0000"/>
<rect x="455" y="507" width="6" height="1" fill="#ff0000"/>
<rect x="461" y="509" width="6" height="1" fill="#ff0000"/>
<rect x="467" y="514" width="4" height="1" fill="#ff0000"/>
<rect x="471" y="519" width="19" height="1" fill="#ff0000"/>
<rect x="491" y="522" width="3" height="1" fill="#ff0000"/>
<rect x="494" y="525" width="8" height="1" fill="#ff0000"/>
<rect x="502" y="531" width="4" height="1" fill="#ff0000"/>
<rect x="506" y="539" width="4" height="1" fill="#ff0000"/>
<rect x="510" y="543" width="4" height="1" fill="#ff0000"/>
<rect x="516" y="547" width="29" height="1" fill="#ff0000"/>
<rect x="545" y="549" width="4" height="1" fill="#ff0000"/>
<rect x="549" y="551" width="4" height="1" fill="#ff0000"/>
<rect x="518" y="554" width="35" height="1" fill="#ff0000"/>
<rect x="553" y="552" width="67" height="1" fill="#ff0000"/>
<rect x="576" y="516" width="12" height="1" fill="#ff0000"/>
<rect x="588" y="523" width="4" height="1" fill="#ff0000"/>
<rect x="592" y="535" width="19" height="1" fill="#ff0000"/>
<rect x="669" y="536" width="71" height="1" fill="#ff0000"/>
<rect x="740" y="537" width="8" height="1" fill="#ff0000"/>
<rect x="748" y="539" width="4" height="1" fill="#ff0000"/>
<rect x="752" y="541" width="4" height="1" fill="#ff0000"/>
<rect x="756" y="543" width="7" height="1" fill="#ff0000"/>
<rect x="763" y="549" width="4" height="1" fill="#ff0000"/>
<rect x="145" y="723" width="3" height="1" fill="#ff0000"/>
<rect x="148" y="727" width="23" height="1" fill="#ff0000"/>
<rect x="219" y="654" width="32" height="1" fill="#ff0000"/>
<rect x="226" y="676" width="24" height="1" fill="#ff0000"/>
<rect x="262" y="523" width="1" height="42" fill="#ff0000"/>
<rect x="820" y="501" width="1" height="9" fill="#ff0000"/>
<rect x="826" y="444" width="6" height="1" fill="#ff0000"/>
<rect x="833" y="440" width="4" height="1" fill="#ff0000"/>
<rect x="837" y="432" width="3" height="1" fill="#ff0000"/>
<rect x="841" y="423" width="4" height="1" fill="#ff0000"/>
<rect x="842" y="427" width="3" height="1" fill="#ff0000"/>
<rect x="846" y="415" width="4" height="1" fill="#ff0000"/>
<rect x="848" y="408" width="4" height="1" fill="#ff0000"/>
<rect x="849" y="405" width="4" height="1" fill="#ff0000"/>
<rect x="899" y="256" width="5" height="1" fill="#ff0000"/>
<rect x="895" y="307" width="5" height="1" fill="#ff0000"/>
<rect x="853" y="376" width="12" height="1" fill="#ff0000"/>
<rect x="864" y="361" width="4" height="1" fill="#ff0000"/>
<rect x="861" y="372" width="4" height="1" fill="#ff0000"/>
<rect x="176" y="713" width="4" height="1" fill="#ff0000"/>
<rect x="180" y="702" width="4" height="1" fill="#ff0000"/>
<rect x="184" y="693" width="4" height="1" fill="#ff0000"/>
<rect x="190" y="683" width="4" height="1" fill="#ff0000"/>
<rect x="197" y="671" width="4" height="1" fill="#ff0000"/>
<rect x="201" y="665" width="4" height="1" fill="#ff0000"/>
<rect x="205" y="661" width="4" height="1" fill="#ff0000"/>
<rect x="256" y="559" width="4" height="1" fill="#ff0000"/>
<rect x="262" y="581" width="4" height="1" fill="#ff0000"/>
<rect x="266" y="573" width="4" height="1" fill="#ff0000"/>
<rect x="270" y="567" width="4" height="1" fill="#ff0000"/>
<rect x="274" y="562" width="4" height="1" fill="#ff0000"/>
<rect x="280" y="554" width="4" height="1" fill="#ff0000"/>
<rect x="284" y="547" width="4" height="1" fill="#ff0000"/>
<rect x="288" y="541" width="4" height="1" fill="#ff0000"/>
<rect x="888" y="127" width="15" height="1" fill="#ff0000"/>
<rect x="901" y="130" width="4" height="1" fill="#dd0000"/>
<rect x="896" y="218" width="4" height="1" fill="#dd0000"/>
<rect x="892" y="295" width="4" height="1" fill="#dd0000"/>
<rect x="114" y="792" width="15" height="1" fill="#0000ff"/>
<rect x="235" y="789" width="111" height="1" fill="#0000ff"/>
<rect x="185" y="817" width="76" height="1" fill="#0000ff"/>
<rect x="261" y="815" width="4" height="1" fill="#0000ff"/>
<rect x="264" y="813" width="4" height="1" fill="#0000ff"/>
<rect x="268" y="811" width="4" height="1" fill="#0000ff"/>
<rect x="272" y="808" width="4" height="1" fill="#0000ff"/>
<rect x="276" y="805" width="4" height="1" fill="#0000ff"/>
<rect x="280" y="800" width="4" height="1" fill="#0000ff"/>
<rect x="284" y="795" width="4" height="1" fill="#0000ff"/>
<rect x="288" y="789" width="4" height="1" fill="#0000ff"/>
<rect x="292" y="782" width="4" height="1" fill="#0000ff"/>
<rect x="296" y="774" width="4" height="1" fill="#0000ff"/>
<rect x="300" y="761" width="42" height="1" fill="#0000ff"/>
<rect x="342" y="759" width="4" height="1" fill="#0000ff"/>
<rect x="346" y="757" width="4" height="1" fill="#0000ff"/>
<rect x="350" y="755" width="4" height="1" fill="#0000ff"/>
<rect x="354" y="753" width="4" height="1" fill="#0000ff"/>
<rect x="358" y="749" width="4" height="1" fill="#0000ff"/>
<rect x="362" y="745" width="4" height="1" fill="#0000ff"/>
<rect x="366" y="740" width="4" height="1" fill="#0000ff"/>
<rect x="370" y="734" width="4" height="1" fill="#0000ff"/>
<rect x="374" y="727" width="4" height="1" fill="#0000ff"/>
<rect x="378" y="718" width="3" height="1" fill="#0000ff"/>
<rect x="381" y="706" width="4" height="1" fill="#0000ff"/>
<rect x="385" y="692" width="4" height="1" fill="#0000ff"/>
<rect x="389" y="681" width="4" height="1" fill="#0000ff"/>
<rect x="393" y="668" width="4" height="1" fill="#0000ff"/>
<rect x="397" y="656" width="39" height="1" fill="#0000ff"/>
<rect x="436" y="654" width="8" height="1" fill="#0000ff"/>
<rect x="444" y="650" width="5" height="1" fill="#0000ff"/>
<rect x="449" y="645" width="6" height="1" fill="#0000ff"/>
<rect x="456" y="641" width="3" height="1" fill="#0000ff"/>
<rect x="459" y="636" width="4" height="1" fill="#0000ff"/>
<rect x="463" y="632" width="4" height="1" fill="#0000ff"/>
<rect x="467" y="619" width="18" height="1" fill="#0000ff"/>
<rect x="485" y="618" width="17" height="1" fill="#0000ff"/>
<rect x="506" y="614" width="4" height="1" fill="#0000ff"/>
<rect x="510" y="611" width="8" height="1" fill="#0000ff"/>
<rect x="518" y="610" width="11" height="1" fill="#0000ff"/>
<rect x="529" y="609" width="28" height="1" fill="#0000ff"/>
<rect x="346" y="787" width="4" height="1" fill="#0000ff"/>
<rect x="350" y="782" width="4" height="1" fill="#0000ff"/>
<rect x="354" y="781" width="28" height="1" fill="#0000ff"/>
<rect x="382" y="780" width="4" height="1" fill="#0000ff"/>
<rect x="386" y="777" width="3" height="1" fill="#0000ff"/>
<rect x="389" y="754" width="4" height="1" fill="#0000ff"/>
<rect x="393" y="752" width="4" height="1" fill="#0000ff"/>
<rect x="397" y="751" width="4" height="1" fill="#0000ff"/>
<rect x="401" y="723" width="4" height="1" fill="#0000ff"/>
<rect x="405" y="719" width="19" height="1" fill="#0000ff"/>
<rect x="424" y="711" width="47" height="1" fill="#0000ff"/>
<rect x="471" y="702" width="4" height="1" fill="#0000ff"/>
<rect x="475" y="700" width="4" height="1" fill="#0000ff"/>
<rect x="479" y="698" width="4" height="1" fill="#0000ff"/>
<rect x="484" y="646" width="69" height="1" fill="#0000ff"/>
<rect x="586" y="613" width="24" height="1" fill="#0000ff"/>
<rect x="557" y="619" width="97" height="1" fill="#0000ff"/>
<rect x="553" y="621" width="4" height="1" fill="#0000ff"/>
<rect x="630" y="625" width="75" height="1" fill="#0000ff"/>
<rect x="705" y="623" width="4" height="1" fill="#0000ff"/>
<rect x="710" y="621" width="3" height="1" fill="#0000ff"/>
<rect x="713" y="620" width="5" height="1" fill="#0000ff"/>
<rect x="718" y="619" width="4" height="1" fill="#0000ff"/>
<rect x="722" y="617" width="6" height="1" fill="#0000ff"/>
<rect x="728" y="615" width="4" height="1" fill="#0000ff"/>
<rect x="732" y="613" width="4" height="1" fill="#0000ff"/>
<rect x="736" y="609" width="4" height="1" fill="#0000ff"/>
<rect x="740" y="605" width="4" height="1" fill="#0000ff"/>
<rect x="744" y="601" width="4" height="1" fill="#0000ff"/>
<rect x="654" y="611" width="113" height="1" fill="#0000ff"/>
<rect x="767" y="622" width="8" height="1" fill="#0000ff"/>
<rect x="775" y="624" width="129" height="1" fill="#0000ff"/>
<rect x="834" y="664" width="70" height="1" fill="#0000ff"/>
<rect x="744" y="714" width="160" height="1" fill="#0000ff"/>
<rect x="806" y="747" width="82" height="1" fill="#0000ff"/>
<rect x="732" y="800" width="74" height="1" fill="#0000ff"/>
<rect x="646" y="805" width="98" height="1" fill="#0000ff"/>
<rect x="378" y="878" width="15" height="1" fill="#0000ff"/>
<rect x="460" y="878" width="15" height="1" fill="#0000ff"/>
<rect x="823" y="644" width="4" height="1" fill="#0000ff"/>
<rect x="826" y="655" width="4" height="1" fill="#0000ff"/>
<path fill="#ff0000" d="M767 550h3v1h-3zM770 551h6v1h-6zM786 553h26v1h-26zM776 552h10v1h-10zM900 126h2v1h-2zM899 125h1v1h-1zM898 124h1v1h-1zM902 127h1v1h-1z"/>
<path fill="#0000ff" d="M117 795h2v1h-2zM115 794h2v1h-2zM114 793h1v1h-1z"/>
<rect x="9" y="724" width="1" height="15" fill="#0000cc"/>
<rect x="8" y="726" width="3" height="12" fill="#0000cc"/>
<rect x="13" y="738" width="1" height="12" fill="#0000cc"/>
<rect x="12" y="739" width="3" height="11" fill="#0000cc"/>
<rect x="17" y="746" width="1" height="6" fill="#0000cc"/>
<rect x="16" y="749" width="3" height="3" fill="#0000cc"/>
<rect x="21" y="746" width="1" height="6" fill="#0000cc"/>
<rect x="20" y="750" width="3" height="1" fill="#0000cc"/>
<rect x="25" y="741" width="1" height="18" fill="#0000cc"/>
<rect x="24" y="750" width="3" height="9" fill="#0000cc"/>
<rect x="29" y="745" width="1" height="12" fill="#dd0000"/>
<rect x="28" y="748" width="3" height="8" fill="#dd0000"/>
<rect x="33" y="746" width="1" height="6" fill="#dd0000"/>
<rect x="32" y="749" width="3" height="3" fill="#dd0000"/>
<rect x="36" y="721" width="1" height="32" fill="#dd0000"/>
<rect x="35" y="732" width="3" height="17" fill="#dd0000"/>
<rect x="40" y="708" width="1" height="29" fill="#dd0000"/>
<rect x="39" y="735" width="3" height="2" fill="#dd0000"/>
<rect x="44" y="721" width="1" height="16" fill="#0000cc"/>
<rect x="43" y="733" width="3" height="4" fill="#0000cc"/>
<rect x="48" y="731" width="1" height="20" fill="#0000cc"/>
<rect x="47" y="736" width="3" height="15" fill="#0000cc"/>
<rect x="52" y="738" width="1" height="13" fill="#dd0000"/>
<rect x="51" y="749" width="3" height="2" fill="#dd0000"/>
<rect x="56" y="745" width="1" height="8" fill="#0000cc"/>
<rect x="55" y="749" width="3" height="3" fill="#0000cc"/>
<rect x="60" y="740" width="1" height="9" fill="#dd0000"/>
<rect x="59" y="744" width="3" height="4" fill="#dd0000"/>
<rect x="64" y="731" width="1" height="12" fill="#0000cc"/>
<rect x="63" y="739" width="3" height="3" fill="#0000cc"/>
<rect x="68" y="742" width="1" height="8" fill="#0000cc"/>
<rect x="67" y="742" width="3" height="8" fill="#0000cc"/>
<rect x="72" y="741" width="1" height="10" fill="#0000cc"/>
<rect x="71" y="744" width="3" height="6" fill="#0000cc"/>
<rect x="75" y="745" width="1" height="6" fill="#dd0000"/>
<rect x="74" y="749" width="3" height="2" fill="#dd0000"/>
<rect x="79" y="745" width="1" height="4" fill="#dd0000"/>
<rect x="78" y="747" width="3" height="1" fill="#dd0000"/>
<rect x="83" y="738" width="1" height="12" fill="#dd0000"/>
<rect x="82" y="741" width="3" height="5" fill="#dd0000"/>
<rect x="87" y="746" width="1" height="5" fill="#0000cc"/>
<rect x="86" y="747" width="3" height="3" fill="#0000cc"/>
<rect x="91" y="750" width="1" height="6" fill="#0000cc"/>
<rect x="90" y="750" width="3" height="6" fill="#0000cc"/>
<rect x="95" y="750" width="1" height="7" fill="#0000cc"/>
<rect x="94" y="752" width="3" height="5" fill="#0000cc"/>
<rect x="99" y="750" width="1" height="6" fill="#dd0000"/>
<rect x="98" y="753" width="3" height="3" fill="#dd0000"/>
<rect x="103" y="756" width="1" height="9" fill="#0000cc"/>
<rect x="102" y="758" width="3" height="7" fill="#0000cc"/>
<rect x="107" y="762" width="1" height="8" fill="#0000cc"/>
<rect x="106" y="762" width="3" height="8" fill="#0000cc"/>
<rect x="111" y="768" width="1" height="12" fill="#0000cc"/>
<rect x="110" y="769" width="3" height="10" fill="#0000cc"/>
<rect x="114" y="780" width="1" height="9" fill="#0000cc"/>
<rect x="113" y="781" width="3" height="8" fill="#0000cc"/>
<rect x="118" y="782" width="1" height="6" fill="#dd0000"/>
<rect x="117" y="782" width="3" height="6" fill="#dd0000"/>
<rect x="122" y="777" width="1" height="6" fill="#dd0000"/>
<rect x="121" y="778" width="3" height="4" fill="#dd0000"/>
<rect x="126" y="777" width="1" height="4" fill="#0000cc"/>
<rect x="125" y="777" width="3" height="3" fill="#0000cc"/>
<rect x="130" y="775" width="1" height="5" fill="#dd0000"/>
<rect x="129" y="777" width="3" height="3" fill="#dd0000"/>
<rect x="134" y="771" width="1" height="6" fill="#dd0000"/>
<rect x="133" y="773" width="3" height="3" fill="#dd0000"/>
<rect x="138" y="772" width="1" height="5" fill="#dd0000"/>
<rect x="137" y="773" width="3" height="2" fill="#dd0000"/>
<rect x="142" y="765" width="1" height="10" fill="#0000cc"/>
<rect x="141" y="770" width="3" height="5" fill="#0000cc"/>
<rect x="146" y="770" width="1" height="9" fill="#dd0000"/>
<rect x="145" y="772" width="3" height="7" fill="#dd0000"/>
<rect x="149" y="770" width="1" height="11" fill="#0000cc"/>
<rect x="148" y="771" width="3" height="9" fill="#0000cc"/>
<rect x="153" y="776" width="1" height="5" fill="#dd0000"/>
<rect x="152" y="777" width="3" height="3" fill="#dd0000"/>
<rect x="157" y="748" width="1" height="28" fill="#dd0000"/>
<rect x="156" y="754" width="3" height="21" fill="#dd0000"/>
<rect x="161" y="748" width="1" height="6" fill="#dd0000"/>
<rect x="160" y="750" width="3" height="1" fill="#dd0000"/>
<rect x="165" y="744" width="1" height="9" fill="#dd0000"/>
<rect x="164" y="745" width="3" height="6" fill="#dd0000"/>
<rect x="169" y="733" width="1" height="18" fill="#dd0000"/>
<rect x="168" y="739" width="3" height="11" fill="#dd0000"/>
<rect x="173" y="694" width="1" height="32" fill="#dd0000"/>
<rect x="172" y="700" width="3" height="22" fill="#dd0000"/>
<rect x="177" y="699" width="1" height="16" fill="#dd0000"/>
<rect x="176" y="702" width="3" height="4" fill="#dd0000"/>
<rect x="181" y="694" width="1" height="10" fill="#dd0000"/>
<rect x="180" y="695" width="3" height="8" fill="#dd0000"/>
<rect x="185" y="682" width="1" height="23" fill="#0000cc"/>
<rect x="184" y="690" width="3" height="14" fill="#0000cc"/>
<rect x="188" y="700" width="1" height="12" fill="#0000cc"/>
<rect x="187" y="702" width="3" height="9" fill="#0000cc"/>
<rect x="192" y="696" width="1" height="23" fill="#dd0000"/>
<rect x="191" y="700" width="3" height="14" fill="#dd0000"/>
<rect x="196" y="686" width="1" height="17" fill="#dd0000"/>
<rect x="195" y="697" width="3" height="6" fill="#dd0000"/>
<rect x="200" y="679" width="1" height="21" fill="#dd0000"/>
<rect x="199" y="688" width="3" height="10" fill="#dd0000"/>
<rect x="204" y="676" width="1" height="18" fill="#dd0000"/>
<rect x="203" y="686" width="3" height="7" fill="#dd0000"/>
<rect x="208" y="684" width="1" height="17" fill="#0000cc"/>
<rect x="207" y="684" width="3" height="16" fill="#0000cc"/>
<rect x="212" y="689" width="1" height="10" fill="#dd0000"/>
<rect x="211" y="690" width="3" height="8" fill="#dd0000"/>
<rect x="216" y="687" width="1" height="13" fill="#dd0000"/>
<rect x="215" y="690" width="3" height="1" fill="#dd0000"/>
<rect x="220" y="686" width="1" height="7" fill="#dd0000"/>
<rect x="219" y="689" width="3" height="2" fill="#dd0000"/>
<rect x="224" y="686" width="1" height="9" fill="#dd0000"/>
<rect x="223" y="689" width="3" height="2" fill="#dd0000"/>
<rect x="227" y="680" width="1" height="19" fill="#0000cc"/>
<rect x="226" y="680" width="3" height="18" fill="#0000cc"/>
<rect x="231" y="694" width="1" height="12" fill="#0000cc"/>
<rect x="230" y="697" width="3" height="8" fill="#0000cc"/>
<rect x="235" y="699" width="1" height="10" fill="#0000cc"/>
<rect x="234" y="705" width="3" height="3" fill="#0000cc"/>
<rect x="239" y="696" width="1" height="15" fill="#dd0000"/>
<rect x="238" y="697" width="3" height="14" fill="#dd0000"/>
<rect x="243" y="683" width="1" height="19" fill="#dd0000"/>
<rect x="242" y="692" width="3" height="6" fill="#dd0000"/>
<rect x="247" y="684" width="1" height="17" fill="#0000cc"/>
<rect x="246" y="693" width="3" height="8" fill="#0000cc"/>
<rect x="251" y="646" width="1" height="52" fill="#dd0000"/>
<rect x="250" y="647" width="3" height="50" fill="#dd0000"/>
<rect x="255" y="608" width="1" height="26" fill="#dd0000"/>
<rect x="254" y="616" width="3" height="17" fill="#dd0000"/>
<rect x="259" y="559" width="1" height="54" fill="#dd0000"/>
<rect x="258" y="574" width="3" height="38" fill="#dd0000"/>
<rect x="262" y="559" width="1" height="15" fill="#dd0000"/>
<rect x="261" y="565" width="3" height="8" fill="#dd0000"/>
<rect x="266" y="571" width="1" height="19" fill="#0000cc"/>
<rect x="265" y="574" width="3" height="13" fill="#0000cc"/>
<rect x="270" y="591" width="1" height="33" fill="#0000cc"/>
<rect x="269" y="593" width="3" height="25" fill="#0000cc"/>
<rect x="274" y="593" width="1" height="30" fill="#dd0000"/>
<rect x="273" y="606" width="3" height="16" fill="#dd0000"/>
<rect x="278" y="591" width="1" height="20" fill="#0000cc"/>
<rect x="277" y="602" width="3" height="3" fill="#0000cc"/>
<rect x="282" y="596" width="1" height="18" fill="#dd0000"/>
<rect x="281" y="598" width="3" height="8" fill="#dd0000"/>
<rect x="286" y="577" width="1" height="29" fill="#dd0000"/>
<rect x="285" y="589" width="3" height="8" fill="#dd0000"/>
<rect x="290" y="587" width="1" height="16" fill="#0000cc"/>
<rect x="289" y="587" width="3" height="6" fill="#0000cc"/>
<rect x="294" y="595" width="1" height="25" fill="#0000cc"/>
<rect x="293" y="595" width="3" height="22" fill="#0000cc"/>
<rect x="298" y="607" width="1" height="16" fill="#dd0000"/>
<rect x="297" y="612" width="3" height="10" fill="#dd0000"/>
<rect x="301" y="607" width="1" height="22" fill="#dd0000"/>
<rect x="300" y="607" width="3" height="9" fill="#dd0000"/>
<rect x="305" y="604" width="1" height="14" fill="#0000cc"/>
<rect x="304" y="614" width="3" height="1" fill="#0000cc"/>
<rect x="309" y="601" width="1" height="20" fill="#0000cc"/>
<rect x="308" y="614" width="3" height="5" fill="#0000cc"/>
<rect x="313" y="587" width="1" height="28" fill="#0000cc"/>
<rect x="312" y="610" width="3" height="3" fill="#0000cc"/>
<rect x="317" y="617" width="1" height="25" fill="#0000cc"/>
<rect x="316" y="620" width="3" height="22" fill="#0000cc"/>
<rect x="321" y="621" width="1" height="25" fill="#dd0000"/>
<rect x="320" y="631" width="3" height="14" fill="#dd0000"/>
<rect x="325" y="569" width="1" height="52" fill="#dd0000"/>
<rect x="324" y="587" width="3" height="32" fill="#dd0000"/>
<rect x="329" y="580" width="1" height="19" fill="#0000cc"/>
<rect x="328" y="580" width="3" height="16" fill="#0000cc"/>
<rect x="333" y="576" width="1" height="27" fill="#dd0000"/>
<rect x="332" y="586" width="3" height="16" fill="#dd0000"/>
<rect x="337" y="558" width="1" height="26" fill="#dd0000"/>
<rect x="336" y="570" width="3" height="13" fill="#dd0000"/>
<rect x="340" y="524" width="1" height="63" fill="#dd0000"/>
<rect x="339" y="527" width="3" height="59" fill="#dd0000"/>
<rect x="344" y="491" width="1" height="46" fill="#0000cc"/>
<rect x="343" y="515" width="3" height="20" fill="#0000cc"/>
<rect x="348" y="527" width="1" height="24" fill="#0000cc"/>
<rect x="347" y="528" width="3" height="23" fill="#0000cc"/>
<rect x="352" y="524" width="1" height="19" fill="#dd0000"/>
<rect x="351" y="533" width="3" height="4" fill="#dd0000"/>
<rect x="356" y="517" width="1" height="24" fill="#dd0000"/>
<rect x="355" y="529" width="3" height="5" fill="#dd0000"/>
<rect x="360" y="523" width="1" height="23" fill="#0000cc"/>
<rect x="359" y="524" width="3" height="13" fill="#0000cc"/>
<rect x="364" y="538" width="1" height="21" fill="#0000cc"/>
<rect x="363" y="543" width="3" height="10" fill="#0000cc"/>
<rect x="368" y="545" width="1" height="23" fill="#0000cc"/>
<rect x="367" y="551" width="3" height="17" fill="#0000cc"/>
<rect x="372" y="561" width="1" height="17" fill="#dd0000"/>
<rect x="371" y="567" width="3" height="6" fill="#dd0000"/>
<rect x="376" y="551" width="1" height="18" fill="#dd0000"/>
<rect x="375" y="567" width="3" height="1" fill="#dd0000"/>
<rect x="379" y="554" width="1" height="43" fill="#0000cc"/>
<rect x="378" y="558" width="3" height="39" fill="#0000cc"/>
<rect x="383" y="577" width="1" height="22" fill="#dd0000"/>
<rect x="382" y="581" width="3" height="15" fill="#dd0000"/>
<rect x="387" y="562" width="1" height="30" fill="#dd0000"/>
<rect x="386" y="571" width="3" height="17" fill="#dd0000"/>
<rect x="391" y="566" width="1" height="20" fill="#0000cc"/>
<rect x="390" y="576" width="3" height="10" fill="#0000cc"/>
<rect x="395" y="562" width="1" height="28" fill="#dd0000"/>
<rect x="394" y="566" width="3" height="24" fill="#dd0000"/>
<rect x="399" y="544" width="1" height="20" fill="#0000cc"/>
<rect x="398" y="547" width="3" height="17" fill="#0000cc"/>
<rect x="403" y="542" width="1" height="20" fill="#0000cc"/>
<rect x="402" y="547" width="3" height="14" fill="#0000cc"/>
<rect x="407" y="550" width="1" height="19" fill="#dd0000"/>
<rect x="406" y="561" width="3" height="7" fill="#dd0000"/>
<rect x="411" y="555" width="1" height="29" fill="#0000cc"/>
<rect x="410" y="555" width="3" height="19" fill="#0000cc"/>
<rect x="414" y="587" width="1" height="19" fill="#0000cc"/>
<rect x="413" y="590" width="3" height="11" fill="#0000cc"/>
<rect x="418" y="587" width="1" height="23" fill="#0000cc"/>
<rect x="417" y="589" width="3" height="20" fill="#0000cc"/>
<rect x="422" y="602" width="1" height="17" fill="#dd0000"/>
<rect x="421" y="613" width="3" height="3" fill="#dd0000"/>
<rect x="426" y="588" width="1" height="12" fill="#0000cc"/>
<rect x="425" y="591" width="3" height="5" fill="#0000cc"/>
<rect x="430" y="579" width="1" height="26" fill="#dd0000"/>
<rect x="429" y="580" width="3" height="23" fill="#dd0000"/>
<rect x="434" y="568" width="1" height="7" fill="#0000cc"/>
<rect x="433" y="569" width="3" height="5" fill="#0000cc"/>
<rect x="438" y="543" width="1" height="29" fill="#dd0000"/>
<rect x="437" y="558" width="3" height="12" fill="#dd0000"/>
<rect x="442" y="555" width="1" height="20" fill="#0000cc"/>
<rect x="441" y="555" width="3" height="20" fill="#0000cc"/>
<rect x="446" y="565" width="1" height="14" fill="#dd0000"/>
<rect x="445" y="568" width="3" height="10" fill="#dd0000"/>
<rect x="450" y="568" width="1" height="10" fill="#0000cc"/>
<rect x="449" y="568" width="3" height="9" fill="#0000cc"/>
<rect x="453" y="570" width="1" height="9" fill="#0000cc"/>
<rect x="452" y="574" width="3" height="5" fill="#0000cc"/>
<rect x="457" y="574" width="1" height="11" fill="#dd0000"/>
<rect x="456" y="575" width="3" height="10" fill="#dd0000"/>
<rect x="461" y="567" width="1" height="10" fill="#0000cc"/>
<rect x="460" y="567" width="3" height="10" fill="#0000cc"/>
<rect x="465" y="573" width="1" height="7" fill="#0000cc"/>
<rect x="464" y="573" width="3" height="7" fill="#0000cc"/>
<rect x="469" y="571" width="1" height="8" fill="#0000cc"/>
<rect x="468" y="575" width="3" height="3" fill="#0000cc"/>
<rect x="473" y="569" width="1" height="19" fill="#0000cc"/>
<rect x="472" y="569" width="3" height="19" fill="#0000cc"/>
<rect x="477" y="579" width="1" height="12" fill="#dd0000"/>
<rect x="476" y="581" width="3" height="4" fill="#dd0000"/>
<rect x="481" y="582" width="1" height="15" fill="#0000cc"/>
<rect x="480" y="583" width="3" height="11" fill="#0000cc"/>
<rect x="485" y="583" width="1" height="15" fill="#dd0000"/>
<rect x="484" y="584" width="3" height="11" fill="#dd0000"/>
<rect x="489" y="581" width="1" height="8" fill="#0000cc"/>
<rect x="488" y="583" width="3" height="4" fill="#0000cc"/>
<rect x="492" y="570" width="1" height="12" fill="#0000cc"/>
<rect x="491" y="577" width="3" height="4" fill="#0000cc"/>
<rect x="496" y="576" width="1" height="14" fill="#0000cc"/>
<rect x="495" y="576" width="3" height="14" fill="#0000cc"/>
<rect x="500" y="587" width="1" height="7" fill="#0000cc"/>
<rect x="499" y="588" width="3" height="5" fill="#0000cc"/>
<rect x="504" y="559" width="1" height="29" fill="#dd0000"/>
<rect x="503" y="577" width="3" height="11" fill="#dd0000"/>
<rect x="508" y="559" width="1" height="16" fill="#dd0000"/>
<rect x="507" y="560" width="3" height="13" fill="#dd0000"/>
<rect x="512" y="535" width="1" height="35" fill="#0000cc"/>
<rect x="511" y="545" width="3" height="13" fill="#0000cc"/>
<rect x="516" y="535" width="1" height="24" fill="#dd0000"/>
<rect x="515" y="554" width="3" height="2" fill="#dd0000"/>
<rect x="520" y="556" width="1" height="15" fill="#0000cc"/>
<rect x="519" y="556" width="3" height="9" fill="#0000cc"/>
<rect x="524" y="555" width="1" height="14" fill="#0000cc"/>
<rect x="523" y="561" width="3" height="5" fill="#0000cc"/>
<rect x="528" y="563" width="1" height="8" fill="#0000cc"/>
<rect x="527" y="564" width="3" height="7" fill="#0000cc"/>
<rect x="531" y="574" width="1" height="10" fill="#0000cc"/>
<rect x="530" y="576" width="3" height="7" fill="#0000cc"/>
<rect x="535" y="577" width="1" height="9" fill="#0000cc"/>
<rect x="534" y="578" width="3" height="7" fill="#0000cc"/>
<rect x="539" y="579" width="1" height="13" fill="#dd0000"/>
<rect x="538" y="586" width="3" height="5" fill="#dd0000"/>
<rect x="543" y="580" width="1" height="13" fill="#0000cc"/>
<rect x="542" y="582" width="3" height="10" fill="#0000cc"/>
<rect x="547" y="586" width="1" height="12" fill="#0000cc"/>
<rect x="546" y="587" width="3" height="10" fill="#0000cc"/>
<rect x="551" y="588" width="1" height="8" fill="#0000cc"/>
<rect x="550" y="589" width="3" height="6" fill="#0000cc"/>
<rect x="555" y="592" width="1" height="12" fill="#0000cc"/>
<rect x="554" y="595" width="3" height="9" fill="#0000cc"/>
<rect x="559" y="599" width="1" height="7" fill="#dd0000"/>
<rect x="558" y="599" width="3" height="4" fill="#dd0000"/>
<rect x="563" y="586" width="1" height="7" fill="#dd0000"/>
<rect x="562" y="588" width="3" height="3" fill="#dd0000"/>
<rect x="566" y="587" width="1" height="6" fill="#0000cc"/>
<rect x="565" y="587" width="3" height="3" fill="#0000cc"/>
<rect x="570" y="588" width="1" height="7" fill="#0000cc"/>
<rect x="569" y="588" width="3" height="2" fill="#0000cc"/>
<rect x="574" y="586" width="1" height="7" fill="#0000cc"/>
<rect x="573" y="588" width="3" height="5" fill="#0000cc"/>
<rect x="578" y="591" width="1" height="4" fill="#0000cc"/>
<rect x="577" y="591" width="3" height="3" fill="#0000cc"/>
<rect x="582" y="591" width="1" height="6" fill="#0000cc"/>
<rect x="581" y="594" width="3" height="3" fill="#0000cc"/>
<rect x="586" y="587" width="1" height="14" fill="#0000cc"/>
<rect x="585" y="587" width="3" height="13" fill="#0000cc"/>
<rect x="590" y="600" width="1" height="11" fill="#dd0000"/>
<rect x="589" y="600" width="3" height="9" fill="#dd0000"/>
<rect x="594" y="592" width="1" height="15" fill="#dd0000"/>
<rect x="593" y="598" width="3" height="2" fill="#dd0000"/>
<rect x="598" y="600" width="1" height="4" fill="#dd0000"/>
<rect x="597" y="602" width="3" height="2" fill="#dd0000"/>
<rect x="602" y="594" width="1" height="9" fill="#0000cc"/>
<rect x="601" y="599" width="3" height="4" fill="#0000cc"/>
<rect x="605" y="588" width="1" height="16" fill="#dd0000"/>
<rect x="604" y="595" width="3" height="9" fill="#dd0000"/>
<rect x="609" y="545" width="1" height="56" fill="#dd0000"/>
<rect x="608" y="569" width="3" height="31" fill="#dd0000"/>
<rect x="613" y="502" width="1" height="44" fill="#0000cc"/>
<rect x="612" y="532" width="3" height="3" fill="#0000cc"/>
<rect x="617" y="537" width="1" height="18" fill="#0000cc"/>
<rect x="616" y="539" width="3" height="16" fill="#0000cc"/>
<rect x="621" y="520" width="1" height="53" fill="#0000cc"/>
<rect x="620" y="531" width="3" height="31" fill="#0000cc"/>
<rect x="625" y="539" width="1" height="25" fill="#0000cc"/>
<rect x="624" y="553" width="3" height="6" fill="#0000cc"/>
<rect x="629" y="537" width="1" height="19" fill="#0000cc"/>
<rect x="628" y="543" width="3" height="8" fill="#0000cc"/>
<rect x="633" y="540" width="1" height="18" fill="#0000cc"/>
<rect x="632" y="541" width="3" height="15" fill="#0000cc"/>
<rect x="637" y="557" width="1" height="15" fill="#0000cc"/>
<rect x="636" y="557" width="3" height="14" fill="#0000cc"/>
<rect x="641" y="566" width="1" height="6" fill="#0000cc"/>
<rect x="640" y="567" width="3" height="3" fill="#0000cc"/>
<rect x="644" y="561" width="1" height="16" fill="#0000cc"/>
<rect x="643" y="566" width="3" height="10" fill="#0000cc"/>
<rect x="648" y="569" width="1" height="9" fill="#dd0000"/>
<rect x="647" y="573" width="3" height="4" fill="#dd0000"/>
<rect x="652" y="567" width="1" height="9" fill="#0000cc"/>
<rect x="651" y="567" width="3" height="5" fill="#0000cc"/>
<rect x="656" y="565" width="1" height="8" fill="#0000cc"/>
<rect x="655" y="569" width="3" height="4" fill="#0000cc"/>
<rect x="660" y="568" width="1" height="6" fill="#0000cc"/>
<rect x="659" y="570" width="3" height="4" fill="#0000cc"/>
<rect x="664" y="549" width="1" height="28" fill="#dd0000"/>
<rect x="663" y="566" width="3" height="7" fill="#dd0000"/>
<rect x="668" y="564" width="1" height="10" fill="#0000cc"/>
<rect x="667" y="565" width="3" height="9" fill="#0000cc"/>
<rect x="672" y="555" width="1" height="21" fill="#dd0000"/>
<rect x="671" y="563" width="3" height="8" fill="#dd0000"/>
<rect x="676" y="560" width="1" height="6" fill="#dd0000"/>
<rect x="675" y="563" width="3" height="3" fill="#dd0000"/>
<rect x="679" y="552" width="1" height="13" fill="#0000cc"/>
<rect x="678" y="552" width="3" height="9" fill="#0000cc"/>
<rect x="683" y="558" width="1" height="6" fill="#0000cc"/>
<rect x="682" y="559" width="3" height="4" fill="#0000cc"/>
<rect x="687" y="549" width="1" height="13" fill="#dd0000"/>
<rect x="686" y="552" width="3" height="9" fill="#dd0000"/>
<rect x="691" y="552" width="1" height="13" fill="#0000cc"/>
<rect x="690" y="552" width="3" height="11" fill="#0000cc"/>
<rect x="695" y="560" width="1" height="13" fill="#0000cc"/>
<rect x="694" y="561" width="3" height="6" fill="#0000cc"/>
<rect x="699" y="564" width="1" height="12" fill="#0000cc"/>
<rect x="698" y="566" width="3" height="10" fill="#0000cc"/>
<rect x="703" y="571" width="1" height="6" fill="#0000cc"/>
<rect x="702" y="574" width="3" height="3" fill="#0000cc"/>
<rect x="707" y="573" width="1" height="8" fill="#dd0000"/>
<rect x="706" y="574" width="3" height="2" fill="#dd0000"/>
<rect x="711" y="568" width="1" height="10" fill="#0000cc"/>
<rect x="710" y="575" width="3" height="3" fill="#0000cc"/>
<rect x="715" y="571" width="1" height="7" fill="#dd0000"/>
<rect x="714" y="575" width="3" height="1" fill="#dd0000"/>
<rect x="718" y="573" width="1" height="6" fill="#0000cc"/>
<rect x="717" y="573" width="3" height="5" fill="#0000cc"/>
<rect x="722" y="580" width="1" height="18" fill="#0000cc"/>
<rect x="721" y="580" width="3" height="5" fill="#0000cc"/>
<rect x="726" y="587" width="1" height="5" fill="#dd0000"/>
<rect x="725" y="588" width="3" height="4" fill="#dd0000"/>
<rect x="730" y="579" width="1" height="7" fill="#dd0000"/>
<rect x="729" y="584" width="3" height="1" fill="#dd0000"/>
<rect x="734" y="585" width="1" height="4" fill="#0000cc"/>
<rect x="733" y="586" width="3" height="2" fill="#0000cc"/>
<rect x="738" y="585" width="1" height="4" fill="#0000cc"/>
<rect x="737" y="585" width="3" height="4" fill="#0000cc"/>
<rect x="742" y="582" width="1" height="5" fill="#0000cc"/>
<rect x="741" y="582" width="3" height="4" fill="#0000cc"/>
<rect x="746" y="580" width="1" height="8" fill="#0000cc"/>
<rect x="745" y="580" width="3" height="7" fill="#0000cc"/>
<rect x="750" y="578" width="1" height="12" fill="#0000cc"/>
<rect x="749" y="586" width="3" height="3" fill="#0000cc"/>
<rect x="754" y="586" width="1" height="7" fill="#0000cc"/>
<rect x="753" y="586" width="3" height="6" fill="#0000cc"/>
<rect x="757" y="590" width="1" height="4" fill="#0000cc"/>
<rect x="756" y="591" width="3" height="2" fill="#0000cc"/>
<rect x="761" y="594" width="1" height="10" fill="#0000cc"/>
<rect x="760" y="595" width="3" height="7" fill="#0000cc"/>
<rect x="765" y="600" width="1" height="8" fill="#0000cc"/>
<rect x="764" y="601" width="3" height="6" fill="#0000cc"/>
<rect x="769" y="609" width="1" height="14" fill="#0000cc"/>
<rect x="768" y="612" width="3" height="5" fill="#0000cc"/>
<rect x="773" y="614" width="1" height="10" fill="#0000cc"/>
<rect x="772" y="616" width="3" height="8" fill="#0000cc"/>
<rect x="777" y="604" width="1" height="20" fill="#dd0000"/>
<rect x="776" y="609" width="3" height="15" fill="#dd0000"/>
<rect x="781" y="583" width="1" height="19" fill="#dd0000"/>
<rect x="780" y="590" width="3" height="11" fill="#dd0000"/>
<rect x="785" y="565" width="1" height="30" fill="#dd0000"/>
<rect x="784" y="576" width="3" height="18" fill="#dd0000"/>
<rect x="789" y="572" width="1" height="11" fill="#0000cc"/>
<rect x="788" y="572" width="3" height="5" fill="#0000cc"/>
<rect x="793" y="553" width="1" height="28" fill="#0000cc"/>
<rect x="792" y="567" width="3" height="14" fill="#0000cc"/>
<rect x="796" y="562" width="1" height="19" fill="#dd0000"/>
<rect x="795" y="573" width="3" height="8" fill="#dd0000"/>
<rect x="800" y="565" width="1" height="12" fill="#0000cc"/>
<rect x="799" y="566" width="3" height="11" fill="#0000cc"/>
<rect x="804" y="556" width="1" height="17" fill="#dd0000"/>
<rect x="803" y="559" width="3" height="14" fill="#dd0000"/>
<rect x="808" y="555" width="1" height="11" fill="#0000cc"/>
<rect x="807" y="557" width="3" height="6" fill="#0000cc"/>
<rect x="812" y="547" width="1" height="20" fill="#dd0000"/>
<rect x="811" y="556" width="3" height="7" fill="#dd0000"/>
<rect x="816" y="546" width="1" height="14" fill="#dd0000"/>
<rect x="815" y="551" width="3" height="5" fill="#dd0000"/>
<rect x="820" y="508" width="1" height="36" fill="#dd0000"/>
<rect x="819" y="527" width="3" height="15" fill="#dd0000"/>
<rect x="824" y="467" width="1" height="68" fill="#dd0000"/>
<rect x="823" y="467" width="3" height="57" fill="#dd0000"/>
<rect x="828" y="444" width="1" height="36" fill="#dd0000"/>
<rect x="827" y="455" width="3" height="3" fill="#dd0000"/>
<rect x="831" y="453" width="1" height="21" fill="#dd0000"/>
<rect x="830" y="454" width="3" height="11" fill="#dd0000"/>
<rect x="835" y="440" width="1" height="28" fill="#dd0000"/>
<rect x="834" y="449" width="3" height="6" fill="#dd0000"/>
<rect x="839" y="434" width="1" height="29" fill="#0000cc"/>
<rect x="838" y="437" width="3" height="15" fill="#0000cc"/>
<rect x="843" y="428" width="1" height="44" fill="#0000cc"/>
<rect x="842" y="448" width="3" height="20" fill="#0000cc"/>
<rect x="847" y="409" width="1" height="63" fill="#dd0000"/>
<rect x="846" y="453" width="3" height="15" fill="#dd0000"/>
<rect x="851" y="428" width="1" height="19" fill="#dd0000"/>
<rect x="850" y="433" width="3" height="10" fill="#dd0000"/>
<rect x="855" y="376" width="1" height="79" fill="#dd0000"/>
<rect x="854" y="413" width="3" height="28" fill="#dd0000"/>
<rect x="859" y="392" width="1" height="25" fill="#0000cc"/>
<rect x="858" y="404" width="3" height="5" fill="#0000cc"/>
<rect x="863" y="400" width="1" height="24" fill="#0000cc"/>
<rect x="862" y="408" width="3" height="13" fill="#0000cc"/>
<rect x="867" y="361" width="1" height="70" fill="#dd0000"/>
<rect x="866" y="396" width="3" height="25" fill="#dd0000"/>
<rect x="870" y="336" width="1" height="63" fill="#dd0000"/>
<rect x="869" y="368" width="3" height="26" fill="#dd0000"/>
<rect x="874" y="359" width="1" height="48" fill="#0000cc"/>
<rect x="873" y="363" width="3" height="41" fill="#0000cc"/>
<rect x="878" y="392" width="1" height="25" fill="#0000cc"/>
<rect x="877" y="398" width="3" height="18" fill="#0000cc"/>
<rect x="882" y="407" width="1" height="31" fill="#0000cc"/>
<rect x="881" y="409" width="3" height="12" fill="#0000cc"/>
<rect x="886" y="413" width="1" height="27" fill="#0000cc"/>
<rect x="885" y="420" width="3" height="19" fill="#0000cc"/>
<rect x="890" y="412" width="1" height="27" fill="#dd0000"/>
<rect x="889" y="429" width="3" height="8" fill="#dd0000"/>
<rect x="894" y="295" width="1" height="127" fill="#dd0000"/>
<rect x="893" y="296" width="3" height="125" fill="#dd0000"/>
<rect x="898" y="218" width="1" height="92" fill="#dd0000"/>
<rect x="897" y="250" width="3" height="53" fill="#dd0000"/>
<rect x="902" y="130" width="1" height="116" fill="#dd0000"/>
<rect x="901" y="185" width="3" height="53" fill="#dd0000"/>
<rect x="912" y="0" width="1" height="906" fill="#000"/>
<rect x="3" y="905" width="910" height="1" fill="#000"/>
<rect x="913" y="895" width="3" height="1" fill="#000"/>
<rect x="913" y="879" width="5" height="1" fill="#000"/>
<rect x="913" y="863" width="3" height="1" fill="#000"/>
<rect x="913" y="847" width="3" height="1" fill="#000"/>
<rect x="913" y="831" width="3" height="1" fill="#000"/>
<rect x="913" y="815" width="3" height="1" fill="#000"/>
<rect x="913" y="799" width="5" height="1" fill="#000"/>
<rect x="913" y="783" width="3" height="1" fill="#000"/>
<rect x="913" y="767" width="3" height="1" fill="#000"/>
<rect x="913" y="751" width="3" height="1" fill="#000"/>
<rect x="913" y="735" width="3" height="1" fill="#000"/>
<rect x="913" y="719" width="5" height="1" fill="#000"/>
<rect x="913" y="703" width="3" height="1" fill="#000"/>
<rect x="913" y="687" width="3" height="1" fill="#000"/>
<rect x="913" y="671" width="3" height="1" fill="#000"/>
<rect x="913" y="655" width="3" height="1" fill="#000"/>
<rect x="913" y="639" width="5" height="1" fill="#000"/>
<rect x="913" y="623" width="3" height="1" fill="#000"/>
<rect x="913" y="607" width="3" height="1" fill="#000"/>
<rect x="913" y="591" width="3" height="1" fill="#000"/>
<rect x="913" y="575" width="3" height="1" fill="#000"/>
<rect x="913" y="559" width="5" height="1" fill="#000"/>
<rect x="913" y="543" width="3" height="1" fill="#000"/>
<rect x="913" y="527" width="3" height="1" fill="#000"/>
<rect x="913" y="511" width="3" height="1" fill="#000"/>
<rect x="913" y="495" width="3" height="1" fill="#000"/>
<rect x="913" y="479" width="5" height="1" fill="#000"/>
<rect x="913" y="463" width="3" height="1" fill="#000"/>
<rect x="913" y="447" width="3" height="1" fill="#000"/>
<rect x="913" y="431" width="3" height="1" fill="#000"/>
<rect x="913" y="415" width="3" height="1" fill="#000"/>
<rect x="913" y="399" width="5" height="1" fill="#000"/>
<rect x="913" y="383" width="3" height="1" fill="#000"/>
<rect x="913" y="367" width="3" height="1" fill="#000"/>
<rect x="913" y="351" width="3" height="1" fill="#000"/>
<rect x="913" y="336" width="3" height="1" fill="#000"/>
<rect x="913" y="320" width="5" height="1" fill="#000"/>
<rect x="913" y="304" width="3" height="1" fill="#000"/>
<rect x="913" y="288" width="3" height="1" fill="#000"/>
<rect x="913" y="272" width="3" height="1" fill="#000"/>
<rect x="913" y="256" width="3" height="1" fill="#000"/>
<rect x="913" y="240" width="5" height="1" fill="#000"/>
<rect x="913" y="224" width="3" height="1" fill="#000"/>
<rect x="913" y="208" width="3" height="1" fill="#000"/>
<rect x="913" y="192" width="3" height="1" fill="#000"/>
<rect x="913" y="176" width="3" height="1" fill="#000"/>
<rect x="913" y="160" width="5" height="1" fill="#000"/>
<rect x="913" y="144" width="3" height="1" fill="#000"/>
<rect x="913" y="128" width="3" height="1" fill="#000"/>
<rect x="913" y="112" width="3" height="1" fill="#000"/>
<rect x="913" y="96" width="3" height="1" fill="#000"/>
<rect x="913" y="80" width="5" height="1" fill="#000"/>
<rect x="913" y="64" width="3" height="1" fill="#000"/>
<rect x="913" y="48" width="3" height="1" fill="#000"/>
<rect x="913" y="32" width="3" height="1" fill="#000"/>
<rect x="913" y="16" width="3" height="1" fill="#000"/>
<rect x="13" y="906" width="1" height="3" fill="#000"/>
<rect x="95" y="906" width="1" height="3" fill="#000"/>
<rect x="173" y="906" width="1" height="3" fill="#000"/>
<rect x="243" y="906" width="1" height="3" fill="#000"/>
<rect x="321" y="906" width="1" height="3" fill="#000"/>
<rect x="399" y="906" width="1" height="3" fill="#000"/>
<rect x="485" y="906" width="1" height="3" fill="#000"/>
<rect x="559" y="906" width="1" height="3" fill="#000"/>
<rect x="633" y="906" width="1" height="3" fill="#000"/>
<rect x="722" y="906" width="1" height="3" fill="#000"/>
<rect x="800" y="906" width="1" height="3" fill="#000"/>
<rect x="886" y="906" width="1" height="3" fill="#000"/>
<rect x="0" y="0" width="1" height="928" fill="#0a1c40"/>
<rect x="1" y="0" width="1" height="928" fill="#36568f"/>
<rect x="919" y="41" width="30" height="12" fill="#ff0000"/>
<rect x="919" y="124" width="30" height="12" fill="#ff0000"/>
<rect x="925" y="168" width="30" height="12" fill="#dd0000"/>
<rect x="919" y="250" width="30" height="12" fill="#ff0000"/>
<rect x="919" y="441" width="30" height="12" fill="#ff0000"/>
<rect x="919" y="618" width="30" height="12" fill="#0000ff"/>
<rect x="919" y="658" width="30" height="12" fill="#0000ff"/>
<rect x="919" y="708" width="30" height="12" fill="#0000ff"/>
<rect x="919" y="885" width="30" height="12" fill="#0000ff"/>
<polygon points="920,188 927,188 923.5,184" fill="#dd0000"/>
<polygon points="930.5,902 938.5,902 934.5,906.3" fill="#0000ff"/>
</g>
<g text-rendering="geometricPrecision">
<text x="3.6" y="12.1" fill="#000" font-size="13" textLength="34.0" lengthAdjust="spacingAndGlyphs" font-weight="500">클로봇</text>
<text x="43.6" y="12.0" fill="#000" font-size="13.8" textLength="31.6" lengthAdjust="spacingAndGlyphs">##box</text>
<text x="80.5" y="12.0" fill="#000" font-size="13.8" textLength="30.1" lengthAdjust="spacingAndGlyphs">target</text>
<text x="119.8" y="12.0" fill="#000" font-size="13.8" textLength="30.5" lengthAdjust="spacingAndGlyphs">(20,2)</text>
<text x="155.5" y="12.0" fill="#000" font-size="13.8" textLength="59.5" lengthAdjust="spacingAndGlyphs">2025/10/14</text>
<text x="219.5" y="12.0" fill="#ff0000" font-size="13.8" textLength="34.0" lengthAdjust="spacingAndGlyphs">46,900</text>
<text x="258.5" y="12.0" fill="#0000ff" font-size="13.8" textLength="33.0" lengthAdjust="spacingAndGlyphs">15,940</text>
<text x="295.5" y="12.0" fill="#ff0000" font-size="13.8" textLength="33.7" lengthAdjust="spacingAndGlyphs">52,060</text>
<text x="333.5" y="12.0" fill="#0000ff" font-size="13.8" textLength="34.0" lengthAdjust="spacingAndGlyphs">-2,120</text>
<text x="921.5" y="84.1" fill="#000" font-size="13.8" textLength="30.0" lengthAdjust="spacingAndGlyphs">50000</text>
<text x="921.5" y="163.9" fill="#000" font-size="13.8" textLength="30.0" lengthAdjust="spacingAndGlyphs">45000</text>
<text x="921.5" y="244.6" fill="#000" font-size="13.8" textLength="30.0" lengthAdjust="spacingAndGlyphs">40000</text>
<text x="921.5" y="324.1" fill="#000" font-size="13.8" textLength="30.0" lengthAdjust="spacingAndGlyphs">35000</text>
<text x="921.5" y="404.1" fill="#000" font-size="13.8" textLength="30.0" lengthAdjust="spacingAndGlyphs">30000</text>
<text x="921.5" y="483.6" fill="#000" font-size="13.8" textLength="30.0" lengthAdjust="spacingAndGlyphs">25000</text>
<text x="921.5" y="563.6" fill="#000" font-size="13.8" textLength="30.0" lengthAdjust="spacingAndGlyphs">20000</text>
<text x="921.5" y="643.3" fill="#000" font-size="13.8" textLength="30.0" lengthAdjust="spacingAndGlyphs">15000</text>
<text x="921.5" y="723.6" fill="#000" font-size="13.8" textLength="30.0" lengthAdjust="spacingAndGlyphs">10000</text>
<text x="921.5" y="803.3" fill="#000" font-size="13.8" textLength="24.0" lengthAdjust="spacingAndGlyphs">5000</text>
<text x="921.5" y="882.8" fill="#000" font-size="13.8" textLength="6.0" lengthAdjust="spacingAndGlyphs">0</text>
<text x="920.0" y="51.1" fill="#fff" font-size="13.8" textLength="29.3" lengthAdjust="spacingAndGlyphs">52060</text>
<text x="920.0" y="134.1" fill="#fff" font-size="13.8" textLength="29.3" lengthAdjust="spacingAndGlyphs">46900</text>
<text x="926.0" y="178.1" fill="#fff" font-size="13.8" textLength="29.3" lengthAdjust="spacingAndGlyphs">43450</text>
<text x="920.0" y="260.1" fill="#fff" font-size="13.8" textLength="29.3" lengthAdjust="spacingAndGlyphs">38978</text>
<text x="920.0" y="451.1" fill="#fff" font-size="13.8" textLength="29.3" lengthAdjust="spacingAndGlyphs">27059</text>
<text x="920.0" y="628.1" fill="#fff" font-size="13.8" textLength="29.3" lengthAdjust="spacingAndGlyphs">15940</text>
<text x="920.0" y="668.1" fill="#fff" font-size="13.8" textLength="29.3" lengthAdjust="spacingAndGlyphs">13422</text>
<text x="920.0" y="718.1" fill="#fff" font-size="13.8" textLength="29.3" lengthAdjust="spacingAndGlyphs">10335</text>
<text x="920.0" y="895.1" fill="#fff" font-size="13.8" textLength="29.3" lengthAdjust="spacingAndGlyphs">-2120</text>
<text x="932.0" y="190.9" fill="#dd0000" font-size="13.8" textLength="23.0" lengthAdjust="spacingAndGlyphs">4100</text>
<text x="929.0" y="202.9" fill="#dd0000" font-size="13.8" textLength="35.0" lengthAdjust="spacingAndGlyphs">10,42%</text>
<text x="768.5" y="129.7" fill="#ff0000" font-size="13.8" textLength="108.0" lengthAdjust="spacingAndGlyphs">46,900 (2025/10/14)</text>
<text x="134.4" y="794.6" fill="#0000ff" font-size="13.8" textLength="101.4" lengthAdjust="spacingAndGlyphs">5,660 (2024/12/09)</text>
<text x="2.8" y="671.5" fill="#000" font-size="13.8" textLength="12.0" lengthAdjust="spacingAndGlyphs">30</text>
<text x="14.6" y="671.5" fill="#000" font-size="13.4" textLength="10.8" lengthAdjust="spacingAndGlyphs" font-weight="500">봉</text>
<text x="26.8" y="671.5" fill="#000" font-size="13.8" textLength="3.5" lengthAdjust="spacingAndGlyphs">(</text>
<text x="31.8" y="671.5" fill="#ff0000" font-size="13.8" textLength="11.4" lengthAdjust="spacingAndGlyphs">10</text>
<text x="43.2" y="671.5" fill="#000" font-size="13.8" textLength="3.0" lengthAdjust="spacingAndGlyphs">,</text>
<text x="47.2" y="671.5" fill="#0000ff" font-size="13.8" textLength="12.0" lengthAdjust="spacingAndGlyphs">20</text>
<text x="59.2" y="671.5" fill="#000" font-size="13.8" textLength="3.0" lengthAdjust="spacingAndGlyphs">,</text>
<text x="63.2" y="671.5" fill="#008000" font-size="13.8" textLength="5.0" lengthAdjust="spacingAndGlyphs">0</text>
<text x="69.2" y="671.5" fill="#000" font-size="13.8" textLength="3.5" lengthAdjust="spacingAndGlyphs">)</text>
<text x="114.5" y="424.8" fill="#000" font-size="13.8" textLength="12.0" lengthAdjust="spacingAndGlyphs">60</text>
<text x="126.3" y="424.8" fill="#000" font-size="13.4" textLength="10.8" lengthAdjust="spacingAndGlyphs" font-weight="500">봉</text>
<text x="138.5" y="424.8" fill="#000" font-size="13.8" textLength="3.5" lengthAdjust="spacingAndGlyphs">(</text>
<text x="143.5" y="424.8" fill="#ff0000" font-size="13.8" textLength="12.0" lengthAdjust="spacingAndGlyphs">36</text>
<text x="155.5" y="424.8" fill="#000" font-size="13.8" textLength="3.0" lengthAdjust="spacingAndGlyphs">,</text>
<text x="159.5" y="424.8" fill="#0000ff" font-size="13.8" textLength="12.0" lengthAdjust="spacingAndGlyphs">22</text>
<text x="171.5" y="424.8" fill="#000" font-size="13.8" textLength="3.0" lengthAdjust="spacingAndGlyphs">,</text>
<text x="175.5" y="424.8" fill="#008000" font-size="13.8" textLength="5.0" lengthAdjust="spacingAndGlyphs">2</text>
<text x="181.5" y="424.8" fill="#000" font-size="13.8" textLength="3.5" lengthAdjust="spacingAndGlyphs">)</text>
<text x="345.0" y="651.6" fill="#000" font-size="13.8" textLength="17.2" lengthAdjust="spacingAndGlyphs">112</text>
<text x="362.0" y="651.6" fill="#000" font-size="13.4" textLength="10.8" lengthAdjust="spacingAndGlyphs" font-weight="500">봉</text>
<text x="374.2" y="651.6" fill="#000" font-size="13.8" textLength="3.5" lengthAdjust="spacingAndGlyphs">(</text>
<text x="379.2" y="651.6" fill="#ff0000" font-size="13.8" textLength="12.0" lengthAdjust="spacingAndGlyphs">36</text>
<text x="391.2" y="651.6" fill="#000" font-size="13.8" textLength="3.0" lengthAdjust="spacingAndGlyphs">,</text>
<text x="395.2" y="651.6" fill="#0000ff" font-size="13.8" textLength="12.0" lengthAdjust="spacingAndGlyphs">76</text>
<text x="407.2" y="651.6" fill="#000" font-size="13.8" textLength="3.0" lengthAdjust="spacingAndGlyphs">,</text>
<text x="411.2" y="651.6" fill="#008000" font-size="13.8" textLength="5.0" lengthAdjust="spacingAndGlyphs">0</text>
<text x="417.2" y="651.6" fill="#000" font-size="13.8" textLength="3.5" lengthAdjust="spacingAndGlyphs">)</text>
<text x="723.0" y="173.8" fill="#000" font-size="13" stroke="#000" stroke-width="0.6" stroke-linejoin="round" textLength="108.1" lengthAdjust="spacingAndGlyphs">41350/35700=1.15</text>
<text x="500.5" y="190.3" fill="#000" font-size="13" stroke="#000" stroke-width="0.6" stroke-linejoin="round" textLength="35.6" lengthAdjust="spacingAndGlyphs">42840</text>
<text x="614.1" y="221.8" fill="#000" font-size="13" stroke="#000" stroke-width="0.6" stroke-linejoin="round" textLength="35.2" lengthAdjust="spacingAndGlyphs">42350</text>
<text x="434.7" y="268.3" fill="#000" font-size="13" stroke="#000" stroke-width="0.6" stroke-linejoin="round" textLength="34.9" lengthAdjust="spacingAndGlyphs">37903</text>
<text x="680.3" y="265.3" fill="#000" font-size="13" stroke="#000" stroke-width="0.6" stroke-linejoin="round" textLength="35.0" lengthAdjust="spacingAndGlyphs">38000</text>
<text x="754.7" y="336.3" fill="#000" font-size="13" stroke="#000" stroke-width="0.6" stroke-linejoin="round" textLength="35.6" lengthAdjust="spacingAndGlyphs">33900</text>
<text x="657.3" y="356.4" fill="#000" font-size="13" stroke="#000" stroke-width="0.6" stroke-linejoin="round" textLength="34.8" lengthAdjust="spacingAndGlyphs">32679</text>
<text x="848.4" y="328.2" fill="#000" font-size="13" stroke="#000" stroke-width="0.6" stroke-linejoin="round" textLength="34.7" lengthAdjust="spacingAndGlyphs">34000</text>
<text x="829.3" y="372.3" fill="#000" font-size="13" stroke="#000" stroke-width="0.6" stroke-linejoin="round" textLength="34.6" lengthAdjust="spacingAndGlyphs">31450</text>
<text x="801.1" y="429.9" fill="#000" font-size="13" stroke="#000" stroke-width="0.6" stroke-linejoin="round" textLength="34.9" lengthAdjust="spacingAndGlyphs">27250</text>
<text x="864.2" y="469.3" fill="#000" font-size="13" stroke="#000" stroke-width="0.6" stroke-linejoin="round" textLength="34.8" lengthAdjust="spacingAndGlyphs">27300</text>
<text x="337.9" y="465.4" fill="#000" font-size="13" stroke="#000" stroke-width="0.6" stroke-linejoin="round" textLength="28.6" lengthAdjust="spacingAndGlyphs">*4.28</text>
<text x="337.9" y="487.4" fill="#000" font-size="13" stroke="#000" stroke-width="0.6" stroke-linejoin="round" textLength="35.1" lengthAdjust="spacingAndGlyphs">24250</text>
<text x="252.0" y="516.3" fill="#000" font-size="13" stroke="#000" stroke-width="0.6" stroke-linejoin="round" textLength="35.0" lengthAdjust="spacingAndGlyphs">22300</text>
<text x="618.0" y="492.3" fill="#000" font-size="13" stroke="#000" stroke-width="0.6" stroke-linejoin="round" textLength="35.3" lengthAdjust="spacingAndGlyphs">23650</text>
<text x="187.0" y="654.2" fill="#000" font-size="13" stroke="#000" stroke-width="0.6" stroke-linejoin="round" textLength="33.8" lengthAdjust="spacingAndGlyphs">12690</text>
<text x="104.3" y="815.3" fill="#000" font-size="13" stroke="#000" stroke-width="0.6" stroke-linejoin="round" textLength="28.0" lengthAdjust="spacingAndGlyphs">5660</text>
<text x="103.5" y="835.4" fill="#000" font-size="13" stroke="#000" stroke-width="0.6" stroke-linejoin="round" textLength="29.4" lengthAdjust="spacingAndGlyphs">*0.45</text>
<text x="762.7" y="669.0" fill="#000" font-size="13" stroke="#000" stroke-width="0.6" stroke-linejoin="round" textLength="34.6" lengthAdjust="spacingAndGlyphs">15940</text>
<text x="761.9" y="692.2" fill="#000" font-size="13" stroke="#000" stroke-width="0.6" stroke-linejoin="round" textLength="29.4" lengthAdjust="spacingAndGlyphs">*0.66</text>
<text x="84.5" y="923.3" fill="#000" font-size="13.8" textLength="20.5" lengthAdjust="spacingAndGlyphs">Dec</text>
<text x="233.0" y="923.3" fill="#000" font-size="13.8" textLength="20.0" lengthAdjust="spacingAndGlyphs">Feb</text>
<text x="310.5" y="923.3" fill="#000" font-size="13.8" textLength="22.1" lengthAdjust="spacingAndGlyphs">Mar</text>
<text x="390.6" y="923.3" fill="#000" font-size="13.8" textLength="18.4" lengthAdjust="spacingAndGlyphs">Apr</text>
<text x="473.4" y="923.3" fill="#000" font-size="13.8" textLength="23.9" lengthAdjust="spacingAndGlyphs">May</text>
<text x="549.0" y="923.3" fill="#000" font-size="13.8" textLength="19.8" lengthAdjust="spacingAndGlyphs">Jun</text>
<text x="624.6" y="923.3" fill="#000" font-size="13.8" textLength="15.1" lengthAdjust="spacingAndGlyphs">Jul</text>
<text x="712.0" y="923.3" fill="#000" font-size="13.8" textLength="20.8" lengthAdjust="spacingAndGlyphs">Aug</text>
<text x="789.8" y="923.3" fill="#000" font-size="13.8" textLength="20.7" lengthAdjust="spacingAndGlyphs">Sep</text>
<text x="877.5" y="923.3" fill="#000" font-size="13.8" textLength="19.0" lengthAdjust="spacingAndGlyphs">Oct</text>
<text x="167.5" y="923.3" fill="#000" font-size="13.8" stroke="#000" stroke-width="0.6" stroke-linejoin="round" textLength="12.0" lengthAdjust="spacingAndGlyphs">25</text>
<text x="935.5" y="923.3" fill="#000" font-size="13.8" textLength="29.0" lengthAdjust="spacingAndGlyphs">10/14</text>
</g>
<g><defs><linearGradient id="ig" x1="0" y1="0" x2="0" y2="1"><stop offset="0" stop-color="#fdfdfb"/><stop offset="1" stop-color="#e2dfcd"/></linearGradient></defs>
<rect x="894.5" y="911.5" width="14" height="14" fill="url(#ig)" stroke="#808080" stroke-width="1"/>
<rect x="912.5" y="911.5" width="14" height="14" fill="url(#ig)" stroke="#808080" stroke-width="1"/>
<path d="M897.5 922.5 L899.5 919 L904 914.5 L906 916.5 L901.5 921 Z M897.5 922.5 L905.5 922.5" fill="none" stroke="#000" stroke-width="1"/>
<circle cx="918.4" cy="916.4" r="2.7" fill="none" stroke="#000" stroke-width="1.5"/>
<path d="M920.6 918.8 L924 922.3" stroke="#000" stroke-width="2" stroke-linecap="round" fill="none"/></g>
</svg>
</body></html>
